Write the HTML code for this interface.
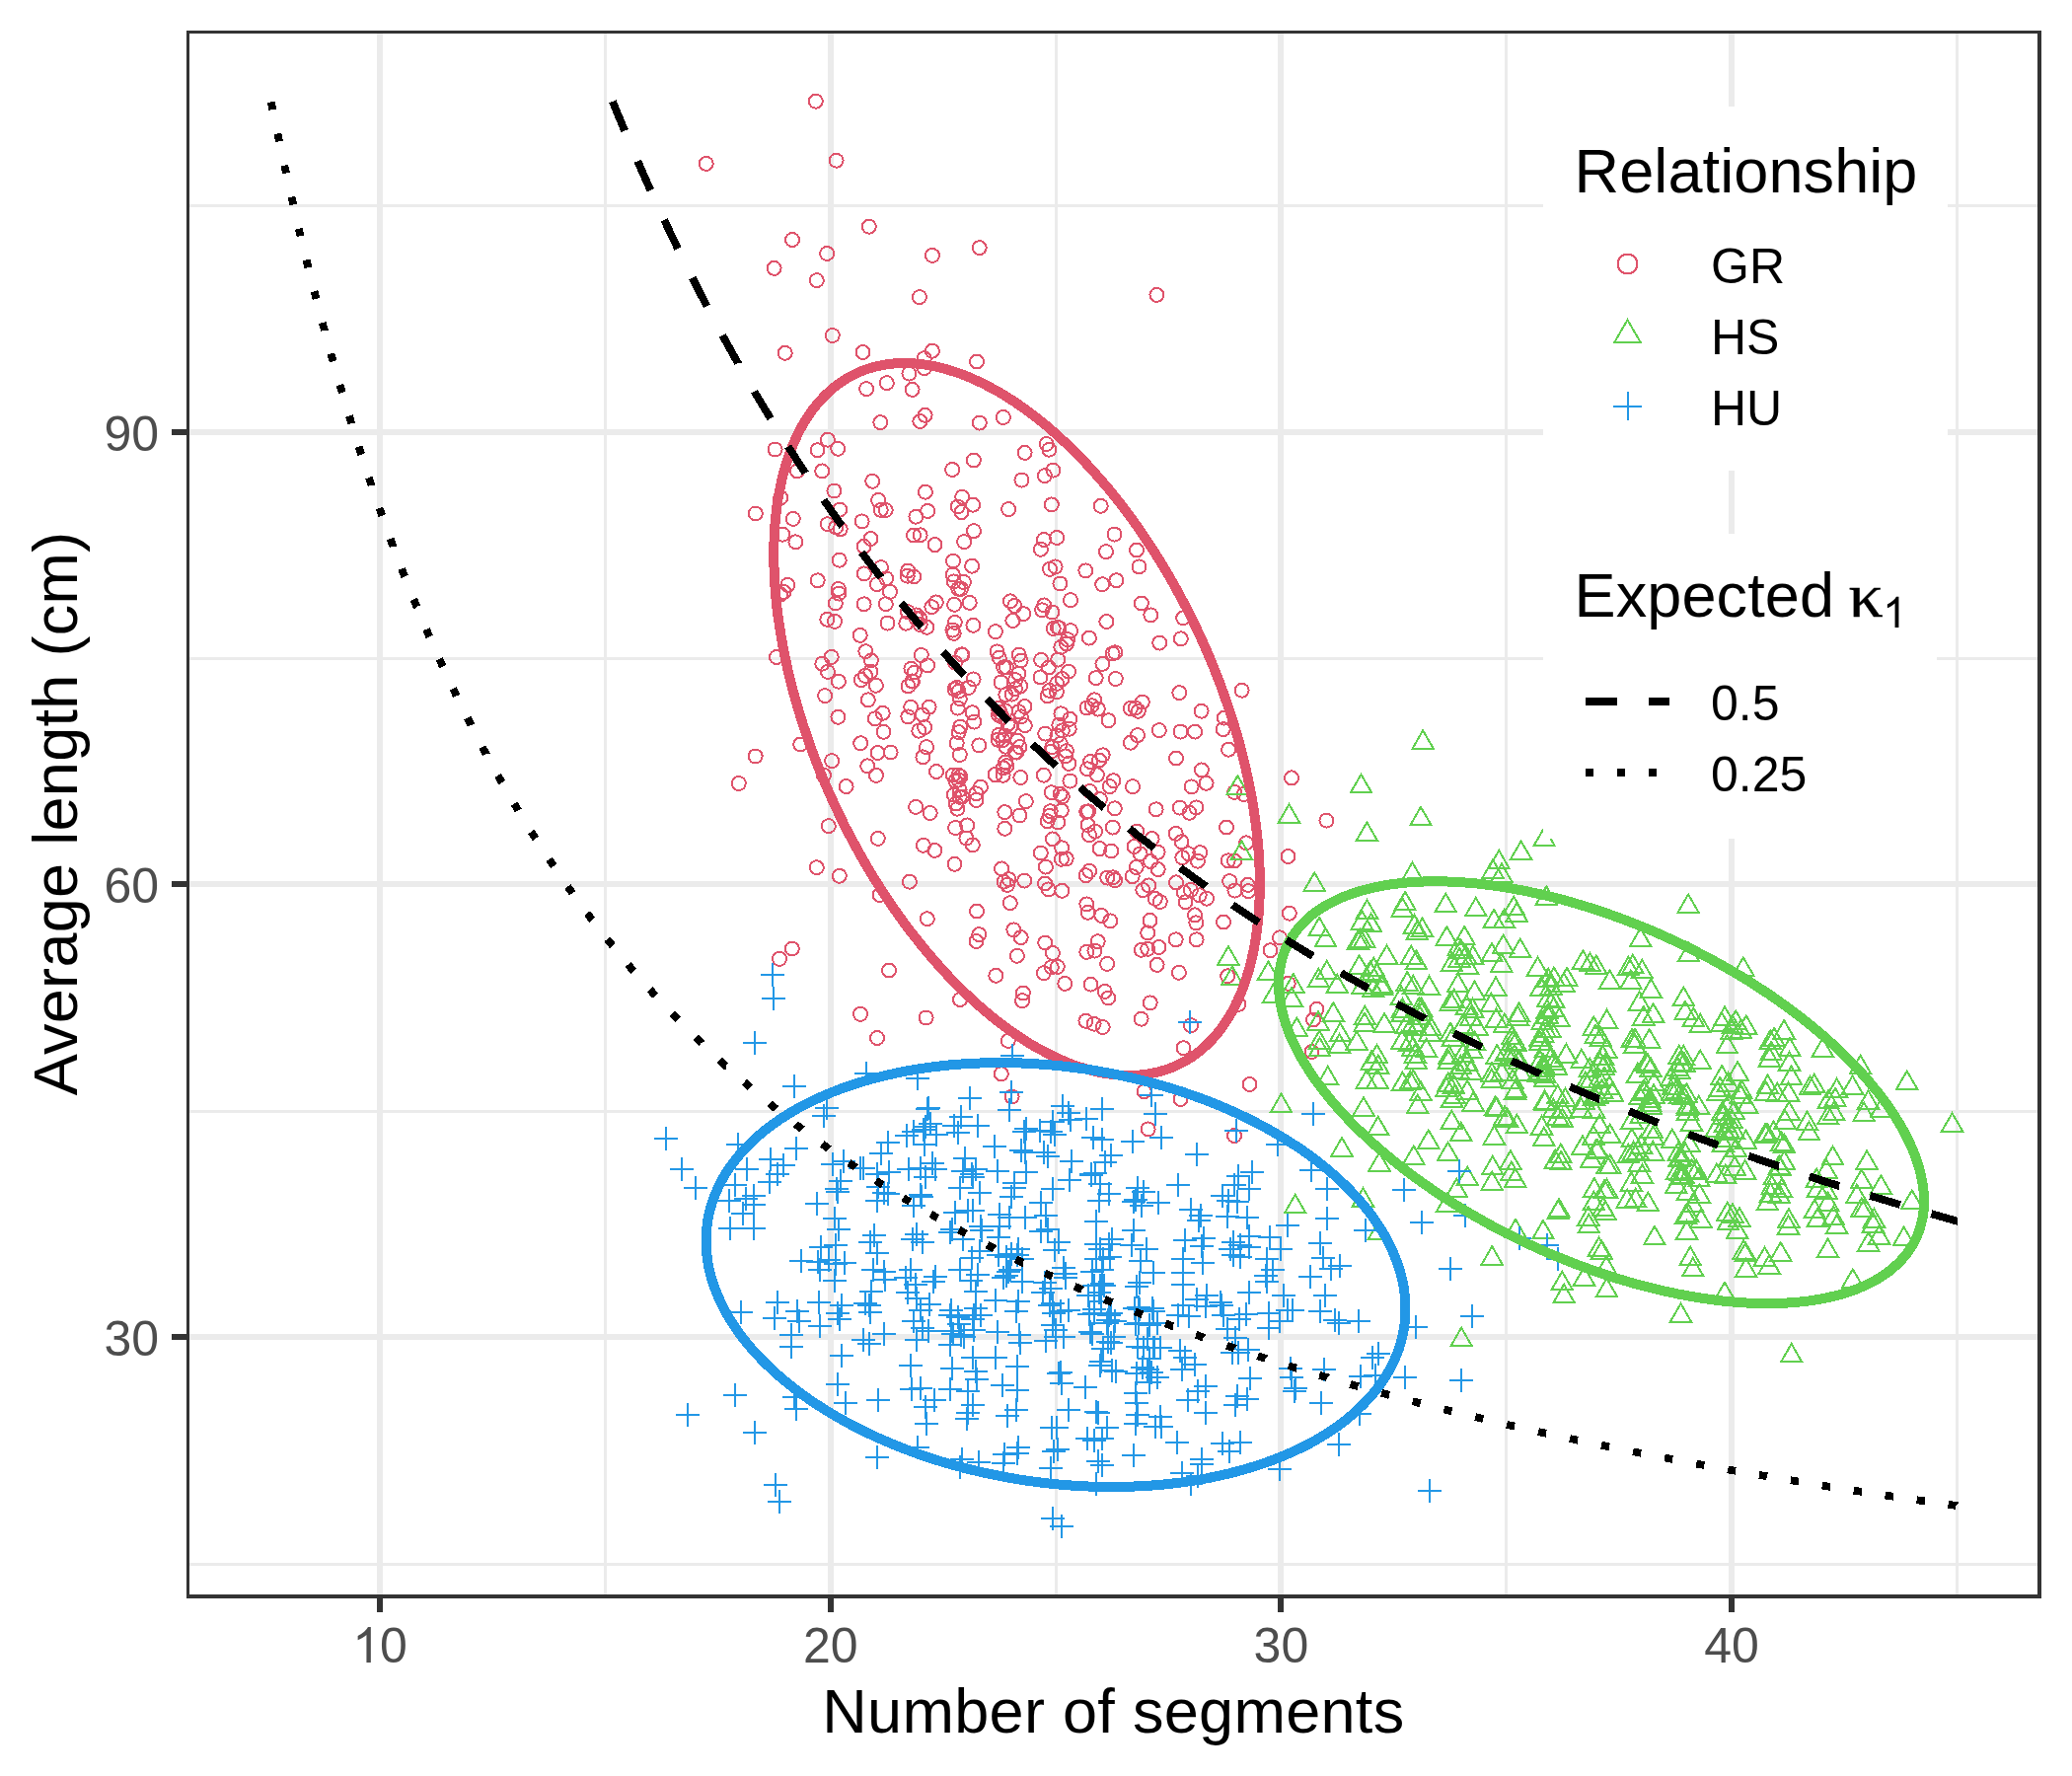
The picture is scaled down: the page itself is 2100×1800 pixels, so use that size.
<!DOCTYPE html><html><head><meta charset="utf-8"><title>chart</title>
<style>html,body{margin:0;padding:0;background:#fff}svg{display:block}text{font-family:"Liberation Sans",sans-serif}</style></head><body>
<svg width="2100" height="1800" viewBox="0 0 2100 1800">
<rect width="2100" height="1800" fill="#fff"/>
<defs><clipPath id="pc"><rect x="189" y="31" width="1880" height="1589"/></clipPath></defs>
<g clip-path="url(#pc)">
<g fill="#EBEBEB" shape-rendering="crispEdges">
<rect x="189" y="1584" width="1880" height="3"/>
<rect x="189" y="1125" width="1880" height="3"/>
<rect x="189" y="666" width="1880" height="3"/>
<rect x="189" y="207" width="1880" height="3"/>
<rect x="612" y="31" width="3" height="1589"/>
<rect x="1069" y="31" width="3" height="1589"/>
<rect x="1525" y="31" width="3" height="1589"/>
<rect x="1982" y="31" width="3" height="1589"/>
<rect x="189" y="1352" width="1880" height="6"/>
<rect x="189" y="893" width="1880" height="6"/>
<rect x="189" y="435" width="1880" height="6"/>
<rect x="382" y="31" width="6" height="1589"/>
<rect x="839" y="31" width="6" height="1589"/>
<rect x="1295" y="31" width="6" height="1589"/>
<rect x="1752" y="31" width="6" height="1589"/>
</g>
<g fill="none" stroke-width="2.0" shape-rendering="crispEdges">
<g stroke="#DF536B"><circle cx="1034.8" cy="726.3" r="7.0"/><circle cx="968.9" cy="814.5" r="7.0"/><circle cx="966.7" cy="641.9" r="7.0"/><circle cx="877.0" cy="684.9" r="7.0"/><circle cx="902.0" cy="599.9" r="7.0"/><circle cx="940.1" cy="674.4" r="7.0"/><circle cx="1054.8" cy="864.5" r="7.0"/><circle cx="1038.5" cy="716.0" r="7.0"/><circle cx="1196.8" cy="647.3" r="7.0"/><circle cx="1173.7" cy="881.1" r="7.0"/><circle cx="833.2" cy="477.4" r="7.0"/><circle cx="806.4" cy="549.3" r="7.0"/><circle cx="1082.0" cy="648.2" r="7.0"/><circle cx="1071.8" cy="979.9" r="7.0"/><circle cx="1116.3" cy="927.9" r="7.0"/><circle cx="1059.3" cy="743.6" r="7.0"/><circle cx="1059.1" cy="895.5" r="7.0"/><circle cx="1031.2" cy="750.7" r="7.0"/><circle cx="1065.8" cy="511.4" r="7.0"/><circle cx="932.4" cy="427.0" r="7.0"/><circle cx="1201.5" cy="914.3" r="7.0"/><circle cx="947.5" cy="552.1" r="7.0"/><circle cx="1122.1" cy="976.9" r="7.0"/><circle cx="968.0" cy="671.7" r="7.0"/><circle cx="1105.0" cy="772.0" r="7.0"/><circle cx="979.4" cy="849.5" r="7.0"/><circle cx="1024.3" cy="736.6" r="7.0"/><circle cx="1125.3" cy="933.4" r="7.0"/><circle cx="1158.4" cy="902.1" r="7.0"/><circle cx="1009.3" cy="988.8" r="7.0"/><circle cx="968.4" cy="791.6" r="7.0"/><circle cx="970.7" cy="513.5" r="7.0"/><circle cx="836.1" cy="705.1" r="7.0"/><circle cx="1151.7" cy="879.0" r="7.0"/><circle cx="967.1" cy="612.8" r="7.0"/><circle cx="1109.1" cy="709.3" r="7.0"/><circle cx="847.2" cy="534.5" r="7.0"/><circle cx="1067.7" cy="637.0" r="7.0"/><circle cx="935.4" cy="767.3" r="7.0"/><circle cx="974.6" cy="663.3" r="7.0"/><circle cx="1032.3" cy="682.8" r="7.0"/><circle cx="977.1" cy="549.1" r="7.0"/><circle cx="1023.8" cy="915.2" r="7.0"/><circle cx="1019.4" cy="756.7" r="7.0"/><circle cx="1211.1" cy="741.6" r="7.0"/><circle cx="1073.3" cy="734.7" r="7.0"/><circle cx="1059.9" cy="878.6" r="7.0"/><circle cx="1063.7" cy="699.9" r="7.0"/><circle cx="1014.5" cy="691.6" r="7.0"/><circle cx="1244.2" cy="989.2" r="7.0"/><circle cx="1012.0" cy="724.6" r="7.0"/><circle cx="1011.6" cy="749.8" r="7.0"/><circle cx="1072.3" cy="833.5" r="7.0"/><circle cx="1070.9" cy="701.3" r="7.0"/><circle cx="838.8" cy="531.2" r="7.0"/><circle cx="850.7" cy="567.7" r="7.0"/><circle cx="1100.5" cy="887.3" r="7.0"/><circle cx="1100.3" cy="578.4" r="7.0"/><circle cx="972.8" cy="708.1" r="7.0"/><circle cx="1072.2" cy="668.6" r="7.0"/><circle cx="1084.5" cy="791.5" r="7.0"/><circle cx="1129.8" cy="819.3" r="7.0"/><circle cx="965.8" cy="785.5" r="7.0"/><circle cx="969.8" cy="696.9" r="7.0"/><circle cx="1059.3" cy="955.5" r="7.0"/><circle cx="948.8" cy="610.4" r="7.0"/><circle cx="1172.6" cy="977.9" r="7.0"/><circle cx="1124.8" cy="797.1" r="7.0"/><circle cx="1058.0" cy="547.0" r="7.0"/><circle cx="1039.8" cy="812.1" r="7.0"/><circle cx="1076.1" cy="859.3" r="7.0"/><circle cx="937.9" cy="498.7" r="7.0"/><circle cx="939.0" cy="757.2" r="7.0"/><circle cx="970.7" cy="717.6" r="7.0"/><circle cx="968.2" cy="839.0" r="7.0"/><circle cx="851.2" cy="516.6" r="7.0"/><circle cx="940.1" cy="518.0" r="7.0"/><circle cx="982.7" cy="610.9" r="7.0"/><circle cx="1152.3" cy="842.6" r="7.0"/><circle cx="920.0" cy="620.1" r="7.0"/><circle cx="1072.0" cy="635.9" r="7.0"/><circle cx="1216.3" cy="864.1" r="7.0"/><circle cx="1058.2" cy="613.4" r="7.0"/><circle cx="926.2" cy="584.4" r="7.0"/><circle cx="1075.9" cy="870.8" r="7.0"/><circle cx="894.7" cy="722.8" r="7.0"/><circle cx="1131.4" cy="588.2" r="7.0"/><circle cx="846.8" cy="611.5" r="7.0"/><circle cx="1122.2" cy="889.6" r="7.0"/><circle cx="1016.9" cy="423.0" r="7.0"/><circle cx="975.3" cy="807.5" r="7.0"/><circle cx="1166.0" cy="873.0" r="7.0"/><circle cx="1028.3" cy="613.9" r="7.0"/><circle cx="1008.9" cy="640.2" r="7.0"/><circle cx="1174.6" cy="960.0" r="7.0"/><circle cx="937.1" cy="737.2" r="7.0"/><circle cx="1016.3" cy="750.2" r="7.0"/><circle cx="882.5" cy="546.0" r="7.0"/><circle cx="987.3" cy="731.6" r="7.0"/><circle cx="889.5" cy="763.0" r="7.0"/><circle cx="1195.3" cy="702.1" r="7.0"/><circle cx="1032.5" cy="721.3" r="7.0"/><circle cx="897.8" cy="612.2" r="7.0"/><circle cx="1101.2" cy="822.8" r="7.0"/><circle cx="986.9" cy="466.5" r="7.0"/><circle cx="1010.5" cy="660.4" r="7.0"/><circle cx="1019.2" cy="720.4" r="7.0"/><circle cx="845.4" cy="497.5" r="7.0"/><circle cx="1012.3" cy="744.8" r="7.0"/><circle cx="833.3" cy="672.7" r="7.0"/><circle cx="1212.6" cy="952.3" r="7.0"/><circle cx="923.4" cy="677.7" r="7.0"/><circle cx="992.3" cy="947.1" r="7.0"/><circle cx="1085.0" cy="639.2" r="7.0"/><circle cx="1055.2" cy="668.9" r="7.0"/><circle cx="872.2" cy="753.2" r="7.0"/><circle cx="1207.6" cy="797.4" r="7.0"/><circle cx="986.6" cy="688.4" r="7.0"/><circle cx="1034.2" cy="695.3" r="7.0"/><circle cx="1064.7" cy="822.2" r="7.0"/><circle cx="1114.9" cy="810.2" r="7.0"/><circle cx="875.6" cy="553.9" r="7.0"/><circle cx="1128.5" cy="791.2" r="7.0"/><circle cx="1163.2" cy="961.8" r="7.0"/><circle cx="974.5" cy="519.1" r="7.0"/><circle cx="920.3" cy="726.4" r="7.0"/><circle cx="1196.5" cy="741.6" r="7.0"/><circle cx="1075.3" cy="655.8" r="7.0"/><circle cx="838.9" cy="445.7" r="7.0"/><circle cx="1251.1" cy="802.9" r="7.0"/><circle cx="1104.0" cy="846.2" r="7.0"/><circle cx="803.8" cy="525.9" r="7.0"/><circle cx="926.0" cy="542.5" r="7.0"/><circle cx="1121.0" cy="559.1" r="7.0"/><circle cx="1018.3" cy="839.8" r="7.0"/><circle cx="939.8" cy="931.2" r="7.0"/><circle cx="932.6" cy="542.3" r="7.0"/><circle cx="1164.2" cy="897.4" r="7.0"/><circle cx="949.0" cy="782.0" r="7.0"/><circle cx="1084.3" cy="728.8" r="7.0"/><circle cx="1074.6" cy="804.8" r="7.0"/><circle cx="1054.5" cy="686.4" r="7.0"/><circle cx="1081.0" cy="652.6" r="7.0"/><circle cx="1198.3" cy="869.1" r="7.0"/><circle cx="1029.1" cy="689.2" r="7.0"/><circle cx="1147.7" cy="888.2" r="7.0"/><circle cx="973.2" cy="736.6" r="7.0"/><circle cx="846.0" cy="629.8" r="7.0"/><circle cx="1156.8" cy="962.8" r="7.0"/><circle cx="1145.9" cy="752.7" r="7.0"/><circle cx="1073.5" cy="636.4" r="7.0"/><circle cx="1103.1" cy="822.3" r="7.0"/><circle cx="934.9" cy="724.4" r="7.0"/><circle cx="971.3" cy="596.8" r="7.0"/><circle cx="1111.9" cy="785.3" r="7.0"/><circle cx="1112.8" cy="718.6" r="7.0"/><circle cx="1204.5" cy="865.3" r="7.0"/><circle cx="971.5" cy="790.5" r="7.0"/><circle cx="985.5" cy="722.2" r="7.0"/><circle cx="1251.5" cy="902.5" r="7.0"/><circle cx="851.7" cy="536.3" r="7.0"/><circle cx="875.6" cy="612.3" r="7.0"/><circle cx="1104.7" cy="802.0" r="7.0"/><circle cx="1192.0" cy="768.5" r="7.0"/><circle cx="989.4" cy="804.3" r="7.0"/><circle cx="879.8" cy="709.3" r="7.0"/><circle cx="1033.4" cy="757.1" r="7.0"/><circle cx="798.3" cy="592.9" r="7.0"/><circle cx="1110.0" cy="842.7" r="7.0"/><circle cx="1085.0" cy="608.2" r="7.0"/><circle cx="1071.1" cy="545.0" r="7.0"/><circle cx="966.0" cy="568.7" r="7.0"/><circle cx="1130.4" cy="661.3" r="7.0"/><circle cx="1022.1" cy="516.1" r="7.0"/><circle cx="974.0" cy="596.8" r="7.0"/><circle cx="947.4" cy="861.9" r="7.0"/><circle cx="1065.4" cy="761.6" r="7.0"/><circle cx="987.0" cy="538.1" r="7.0"/><circle cx="1212.4" cy="818.4" r="7.0"/><circle cx="1165.5" cy="932.9" r="7.0"/><circle cx="1030.1" cy="762.6" r="7.0"/><circle cx="1197.5" cy="853.2" r="7.0"/><circle cx="1110.7" cy="687.1" r="7.0"/><circle cx="1129.5" cy="541.6" r="7.0"/><circle cx="1015.7" cy="726.8" r="7.0"/><circle cx="944.3" cy="615.2" r="7.0"/><circle cx="1038.6" cy="458.9" r="7.0"/><circle cx="1175.8" cy="914.0" r="7.0"/><circle cx="920.2" cy="578.5" r="7.0"/><circle cx="1076.8" cy="807.4" r="7.0"/><circle cx="993.9" cy="797.7" r="7.0"/><circle cx="928.2" cy="817.9" r="7.0"/><circle cx="931.3" cy="740.7" r="7.0"/><circle cx="1163.2" cy="945.4" r="7.0"/><circle cx="1033.4" cy="826.5" r="7.0"/><circle cx="850.2" cy="601.6" r="7.0"/><circle cx="1024.0" cy="609.3" r="7.0"/><circle cx="1054.9" cy="556.8" r="7.0"/><circle cx="879.2" cy="776.3" r="7.0"/><circle cx="1215.7" cy="907.3" r="7.0"/><circle cx="1251.1" cy="872.5" r="7.0"/><circle cx="1265.3" cy="903.1" r="7.0"/><circle cx="828.7" cy="588.3" r="7.0"/><circle cx="942.7" cy="824.0" r="7.0"/><circle cx="935.9" cy="856.8" r="7.0"/><circle cx="939.3" cy="635.8" r="7.0"/><circle cx="1128.1" cy="889.3" r="7.0"/><circle cx="1150.7" cy="717.6" r="7.0"/><circle cx="992.3" cy="755.4" r="7.0"/><circle cx="1263.0" cy="854.3" r="7.0"/><circle cx="1174.8" cy="740.1" r="7.0"/><circle cx="1019.3" cy="704.1" r="7.0"/><circle cx="1018.4" cy="745.6" r="7.0"/><circle cx="1016.6" cy="785.8" r="7.0"/><circle cx="1076.5" cy="688.1" r="7.0"/><circle cx="1076.8" cy="740.4" r="7.0"/><circle cx="1063.9" cy="827.0" r="7.0"/><circle cx="1239.7" cy="739.1" r="7.0"/><circle cx="1019.9" cy="676.3" r="7.0"/><circle cx="893.0" cy="575.1" r="7.0"/><circle cx="1175.2" cy="651.6" r="7.0"/><circle cx="1101.6" cy="717.5" r="7.0"/><circle cx="1076.3" cy="902.8" r="7.0"/><circle cx="1166.3" cy="623.4" r="7.0"/><circle cx="884.2" cy="487.8" r="7.0"/><circle cx="898.8" cy="388.1" r="7.0"/><circle cx="965.1" cy="476.0" r="7.0"/><circle cx="972.6" cy="800.4" r="7.0"/><circle cx="1080.7" cy="870.4" r="7.0"/><circle cx="849.9" cy="690.7" r="7.0"/><circle cx="1102.0" cy="779.3" r="7.0"/><circle cx="975.4" cy="663.8" r="7.0"/><circle cx="1020.4" cy="776.2" r="7.0"/><circle cx="882.4" cy="680.7" r="7.0"/><circle cx="1167.6" cy="850.1" r="7.0"/><circle cx="1191.7" cy="844.9" r="7.0"/><circle cx="1071.1" cy="692.8" r="7.0"/><circle cx="1170.8" cy="910.9" r="7.0"/><circle cx="828.5" cy="456.3" r="7.0"/><circle cx="1061.7" cy="705.3" r="7.0"/><circle cx="1021.0" cy="896.9" r="7.0"/><circle cx="895.5" cy="741.8" r="7.0"/><circle cx="1154.5" cy="574.4" r="7.0"/><circle cx="1057.8" cy="785.7" r="7.0"/><circle cx="1032.6" cy="663.6" r="7.0"/><circle cx="1244.7" cy="872.3" r="7.0"/><circle cx="892.3" cy="428.1" r="7.0"/><circle cx="1066.3" cy="757.2" r="7.0"/><circle cx="1153.8" cy="720.8" r="7.0"/><circle cx="924.9" cy="690.6" r="7.0"/><circle cx="1199.2" cy="626.2" r="7.0"/><circle cx="1080.9" cy="761.2" r="7.0"/><circle cx="1062.9" cy="676.5" r="7.0"/><circle cx="1034.3" cy="788.0" r="7.0"/><circle cx="937.6" cy="420.9" r="7.0"/><circle cx="1016.7" cy="778.4" r="7.0"/><circle cx="1025.5" cy="703.7" r="7.0"/><circle cx="973.4" cy="787.1" r="7.0"/><circle cx="967.8" cy="630.9" r="7.0"/><circle cx="1156.9" cy="611.5" r="7.0"/><circle cx="1038.2" cy="892.6" r="7.0"/><circle cx="1074.4" cy="591.5" r="7.0"/><circle cx="888.0" cy="785.9" r="7.0"/><circle cx="1264.6" cy="896.9" r="7.0"/><circle cx="926.8" cy="681.5" r="7.0"/><circle cx="1123.3" cy="1011.5" r="7.0"/><circle cx="966.8" cy="805.6" r="7.0"/><circle cx="1083.7" cy="738.7" r="7.0"/><circle cx="1240.9" cy="727.6" r="7.0"/><circle cx="899.5" cy="631.6" r="7.0"/><circle cx="919.7" cy="583.7" r="7.0"/><circle cx="1246.2" cy="893.1" r="7.0"/><circle cx="1114.5" cy="860.1" r="7.0"/><circle cx="1103.9" cy="646.6" r="7.0"/><circle cx="1117.2" cy="592.2" r="7.0"/><circle cx="1157.8" cy="711.6" r="7.0"/><circle cx="1211.0" cy="927.4" r="7.0"/><circle cx="1021.6" cy="733.8" r="7.0"/><circle cx="872.8" cy="689.1" r="7.0"/><circle cx="1028.9" cy="698.1" r="7.0"/><circle cx="989.5" cy="810.9" r="7.0"/><circle cx="1062.6" cy="901.4" r="7.0"/><circle cx="892.7" cy="516.9" r="7.0"/><circle cx="1212.3" cy="935.3" r="7.0"/><circle cx="1115.7" cy="512.8" r="7.0"/><circle cx="1123.5" cy="730.2" r="7.0"/><circle cx="1074.8" cy="753.9" r="7.0"/><circle cx="1117.6" cy="765.3" r="7.0"/><circle cx="1106.5" cy="715.2" r="7.0"/><circle cx="992.8" cy="428.6" r="7.0"/><circle cx="1034.7" cy="669.5" r="7.0"/><circle cx="985.8" cy="856.3" r="7.0"/><circle cx="1195.7" cy="818.6" r="7.0"/><circle cx="849.8" cy="597.0" r="7.0"/><circle cx="1101.3" cy="916.4" r="7.0"/><circle cx="1071.4" cy="745.6" r="7.0"/><circle cx="1066.9" cy="850.4" r="7.0"/><circle cx="1018.3" cy="823.1" r="7.0"/><circle cx="1083.4" cy="773.9" r="7.0"/><circle cx="1058.9" cy="482.1" r="7.0"/><circle cx="842.7" cy="665.9" r="7.0"/><circle cx="1037.3" cy="622.1" r="7.0"/><circle cx="890.1" cy="506.9" r="7.0"/><circle cx="1013.6" cy="722.1" r="7.0"/><circle cx="981.8" cy="696.9" r="7.0"/><circle cx="1112.7" cy="954.2" r="7.0"/><circle cx="966.7" cy="589.4" r="7.0"/><circle cx="878.1" cy="394.1" r="7.0"/><circle cx="1067.4" cy="476.6" r="7.0"/><circle cx="1260.9" cy="805.0" r="7.0"/><circle cx="1206.9" cy="902.0" r="7.0"/><circle cx="1171.6" cy="820.3" r="7.0"/><circle cx="1101.3" cy="964.9" r="7.0"/><circle cx="1130.8" cy="688.0" r="7.0"/><circle cx="1240.0" cy="934.5" r="7.0"/><circle cx="928.7" cy="627.0" r="7.0"/><circle cx="1104.2" cy="882.8" r="7.0"/><circle cx="928.4" cy="523.7" r="7.0"/><circle cx="1148.0" cy="797.2" r="7.0"/><circle cx="1156.6" cy="1032.7" r="7.0"/><circle cx="875.8" cy="581.4" r="7.0"/><circle cx="843.1" cy="771.1" r="7.0"/><circle cx="1011.9" cy="717.9" r="7.0"/><circle cx="838.9" cy="680.9" r="7.0"/><circle cx="990.0" cy="923.6" r="7.0"/><circle cx="986.4" cy="633.8" r="7.0"/><circle cx="849.2" cy="454.8" r="7.0"/><circle cx="898.2" cy="586.3" r="7.0"/><circle cx="1075.8" cy="821.5" r="7.0"/><circle cx="1114.1" cy="770.5" r="7.0"/><circle cx="888.9" cy="592.1" r="7.0"/><circle cx="902.7" cy="762.5" r="7.0"/><circle cx="1061.5" cy="832.3" r="7.0"/><circle cx="1026.4" cy="629.0" r="7.0"/><circle cx="1153.0" cy="745.1" r="7.0"/><circle cx="969.7" cy="753.3" r="7.0"/><circle cx="1064.0" cy="576.8" r="7.0"/><circle cx="857.6" cy="797.1" r="7.0"/><circle cx="971.3" cy="785.7" r="7.0"/><circle cx="1126.3" cy="862.5" r="7.0"/><circle cx="1079.9" cy="766.4" r="7.0"/><circle cx="971.7" cy="742.1" r="7.0"/><circle cx="933.8" cy="664.0" r="7.0"/><circle cx="1036.1" cy="1014.2" r="7.0"/><circle cx="986.1" cy="511.7" r="7.0"/><circle cx="1173.6" cy="863.7" r="7.0"/><circle cx="1066.4" cy="620.5" r="7.0"/><circle cx="1038.8" cy="735.2" r="7.0"/><circle cx="1105.5" cy="997.7" r="7.0"/><circle cx="877.3" cy="660.2" r="7.0"/><circle cx="1008.5" cy="785.1" r="7.0"/><circle cx="887.9" cy="694.8" r="7.0"/><circle cx="1019.0" cy="772.7" r="7.0"/><circle cx="1205.5" cy="823.8" r="7.0"/><circle cx="967.5" cy="875.8" r="7.0"/><circle cx="873.6" cy="528.4" r="7.0"/><circle cx="871.7" cy="643.9" r="7.0"/><circle cx="920.5" cy="695.4" r="7.0"/><circle cx="975.2" cy="503.8" r="7.0"/><circle cx="882.9" cy="669.4" r="7.0"/><circle cx="807.9" cy="477.4" r="7.0"/><circle cx="941.6" cy="716.7" r="7.0"/><circle cx="976.9" cy="590.0" r="7.0"/><circle cx="1015.1" cy="880.4" r="7.0"/><circle cx="1102.5" cy="836.0" r="7.0"/><circle cx="972.7" cy="807.8" r="7.0"/><circle cx="1245.1" cy="759.7" r="7.0"/><circle cx="1145.9" cy="718.0" r="7.0"/><circle cx="971.5" cy="700.7" r="7.0"/><circle cx="1222.6" cy="793.8" r="7.0"/><circle cx="924.4" cy="690.4" r="7.0"/><circle cx="1027.3" cy="942.4" r="7.0"/><circle cx="1127.6" cy="662.5" r="7.0"/><circle cx="1075.4" cy="723.3" r="7.0"/><circle cx="1149.5" cy="858.0" r="7.0"/><circle cx="965.5" cy="638.5" r="7.0"/><circle cx="1035.5" cy="486.5" r="7.0"/><circle cx="1217.6" cy="720.7" r="7.0"/><circle cx="980.2" cy="836.4" r="7.0"/><circle cx="886.8" cy="728.3" r="7.0"/><circle cx="967.5" cy="698.4" r="7.0"/><circle cx="1060.7" cy="450.0" r="7.0"/><circle cx="1127.8" cy="838.6" r="7.0"/><circle cx="1194.9" cy="985.8" r="7.0"/><circle cx="1056.1" cy="618.3" r="7.0"/><circle cx="1079.3" cy="996.9" r="7.0"/><circle cx="932.3" cy="627.1" r="7.0"/><circle cx="1083.0" cy="680.7" r="7.0"/><circle cx="1191.7" cy="952.3" r="7.0"/><circle cx="1117.4" cy="672.9" r="7.0"/><circle cx="1223.0" cy="910.7" r="7.0"/><circle cx="921.9" cy="893.7" r="7.0"/><circle cx="1199.8" cy="904.4" r="7.0"/><circle cx="1012.7" cy="666.6" r="7.0"/><circle cx="970.4" cy="819.7" r="7.0"/><circle cx="1065.8" cy="803.2" r="7.0"/><circle cx="1192.0" cy="894.4" r="7.0"/><circle cx="918.3" cy="631.7" r="7.0"/><circle cx="1213.9" cy="872.7" r="7.0"/><circle cx="1102.5" cy="924.8" r="7.0"/><circle cx="1017.2" cy="676.2" r="7.0"/><circle cx="1063.4" cy="455.7" r="7.0"/><circle cx="923.2" cy="716.8" r="7.0"/><circle cx="889.8" cy="849.9" r="7.0"/><circle cx="1121.4" cy="630.0" r="7.0"/><circle cx="932.7" cy="633.0" r="7.0"/><circle cx="972.8" cy="765.0" r="7.0"/><circle cx="928.7" cy="623.4" r="7.0"/><circle cx="1069.6" cy="574.4" r="7.0"/><circle cx="1217.9" cy="780.4" r="7.0"/><circle cx="897.7" cy="517.0" r="7.0"/><circle cx="1243.0" cy="838.5" r="7.0"/><circle cx="965.8" cy="582.3" r="7.0"/><circle cx="1130.1" cy="892.2" r="7.0"/><circle cx="1022.5" cy="891.2" r="7.0"/><circle cx="1109.5" cy="963.5" r="7.0"/><circle cx="1155.6" cy="865.3" r="7.0"/><circle cx="985.1" cy="573.7" r="7.0"/><circle cx="849.4" cy="726.8" r="7.0"/><circle cx="1028.8" cy="762.5" r="7.0"/><circle cx="1152.0" cy="557.5" r="7.0"/><circle cx="1017.5" cy="893.7" r="7.0"/><circle cx="838.3" cy="627.8" r="7.0"/><circle cx="826.8" cy="102.7" r="7.0"/><circle cx="715.7" cy="165.9" r="7.0"/><circle cx="847.6" cy="162.7" r="7.0"/><circle cx="880.8" cy="229.7" r="7.0"/><circle cx="803.0" cy="243.0" r="7.0"/><circle cx="838.1" cy="257.0" r="7.0"/><circle cx="784.6" cy="271.9" r="7.0"/><circle cx="827.8" cy="284.1" r="7.0"/><circle cx="944.9" cy="258.9" r="7.0"/><circle cx="992.7" cy="251.1" r="7.0"/><circle cx="931.9" cy="301.1" r="7.0"/><circle cx="1172.4" cy="298.9" r="7.0"/><circle cx="843.8" cy="340.0" r="7.0"/><circle cx="795.7" cy="357.8" r="7.0"/><circle cx="874.6" cy="357.0" r="7.0"/><circle cx="944.9" cy="355.7" r="7.0"/><circle cx="936.8" cy="363.2" r="7.0"/><circle cx="990.0" cy="366.5" r="7.0"/><circle cx="921.4" cy="378.6" r="7.0"/><circle cx="936.8" cy="373.2" r="7.0"/><circle cx="924.6" cy="394.9" r="7.0"/><circle cx="785.6" cy="455.5" r="7.0"/><circle cx="765.8" cy="520.5" r="7.0"/><circle cx="791.3" cy="504.4" r="7.0"/><circle cx="793.3" cy="541.7" r="7.0"/><circle cx="791.0" cy="602.5" r="7.0"/><circle cx="794.5" cy="600.0" r="7.0"/><circle cx="787.0" cy="666.0" r="7.0"/><circle cx="765.7" cy="766.5" r="7.0"/><circle cx="748.8" cy="794.0" r="7.0"/><circle cx="811.2" cy="754.5" r="7.0"/><circle cx="835.0" cy="785.9" r="7.0"/><circle cx="839.8" cy="837.1" r="7.0"/><circle cx="827.8" cy="879.2" r="7.0"/><circle cx="850.8" cy="887.8" r="7.0"/><circle cx="891.5" cy="907.0" r="7.0"/><circle cx="802.8" cy="961.5" r="7.0"/><circle cx="790.0" cy="971.8" r="7.0"/><circle cx="901.0" cy="983.5" r="7.0"/><circle cx="872.0" cy="1027.8" r="7.0"/><circle cx="889.0" cy="1052.0" r="7.0"/><circle cx="938.6" cy="1031.5" r="7.0"/><circle cx="973.0" cy="1013.0" r="7.0"/><circle cx="1021.8" cy="1054.9" r="7.0"/><circle cx="1014.8" cy="1088.3" r="7.0"/><circle cx="1025.6" cy="1111.5" r="7.0"/><circle cx="1258.6" cy="699.7" r="7.0"/><circle cx="1309.0" cy="788.4" r="7.0"/><circle cx="1344.4" cy="831.6" r="7.0"/><circle cx="1305.6" cy="868.0" r="7.0"/><circle cx="1306.8" cy="925.7" r="7.0"/><circle cx="1287.5" cy="963.2" r="7.0"/><circle cx="1297.0" cy="950.3" r="7.0"/><circle cx="1334.5" cy="1022.8" r="7.0"/><circle cx="1331.0" cy="1033.5" r="7.0"/><circle cx="1329.5" cy="1066.0" r="7.0"/><circle cx="1266.5" cy="1099.0" r="7.0"/><circle cx="1255.5" cy="1017.8" r="7.0"/><circle cx="1199.5" cy="1062.2" r="7.0"/><circle cx="1159.7" cy="1106.2" r="7.0"/><circle cx="1196.6" cy="1114.0" r="7.0"/><circle cx="1251.0" cy="1151.0" r="7.0"/><circle cx="1163.6" cy="1144.4" r="7.0"/><circle cx="1305.7" cy="996.8" r="7.0"/><circle cx="1207.0" cy="1039.2" r="7.0"/><circle cx="1036.9" cy="1006.5" r="7.0"/><circle cx="1100.4" cy="1034.8" r="7.0"/><circle cx="1108.6" cy="1037.7" r="7.0"/><circle cx="1117.7" cy="1041.0" r="7.0"/><circle cx="1119.7" cy="1004.9" r="7.0"/><circle cx="1165.7" cy="1016.4" r="7.0"/><circle cx="989.6" cy="954.0" r="7.0"/><circle cx="1034.7" cy="950.1" r="7.0"/><circle cx="1030.9" cy="968.8" r="7.0"/><circle cx="1066.9" cy="965.9" r="7.0"/><circle cx="1065.8" cy="980.1" r="7.0"/><circle cx="1057.9" cy="986.2" r="7.0"/></g>
<g stroke="#61D04F" stroke-linejoin="miter"><path d="M1719.4,1176.3l10.65,18.45h-21.30zM1670.0,1068.4l10.65,18.45h-21.30zM1815.5,1080.7l10.65,18.45h-21.30zM1432.3,989.0l10.65,18.45h-21.30zM1405.5,958.1l10.65,18.45h-21.30zM1722.0,1184.0l10.65,18.45h-21.30zM1574.5,1011.4l10.65,18.45h-21.30zM1694.7,1144.6l10.65,18.45h-21.30zM1659.7,1078.1l10.65,18.45h-21.30zM1467.5,1157.8l10.65,18.45h-21.30zM1757.3,1135.2l10.65,18.45h-21.30zM1565.6,1105.3l10.65,18.45h-21.30zM1624.9,1213.6l10.65,18.45h-21.30zM1466.1,1092.3l10.65,18.45h-21.30zM1852.5,1255.6l10.65,18.45h-21.30zM1531.9,1177.6l10.65,18.45h-21.30zM1676.9,1242.9l10.65,18.45h-21.30zM1337.1,929.9l10.65,18.45h-21.30zM1703.2,1066.4l10.65,18.45h-21.30zM1388.7,974.5l10.65,18.45h-21.30zM1755.9,1029.0l10.65,18.45h-21.30zM1751.6,1087.1l10.65,18.45h-21.30zM1789.1,1139.1l10.65,18.45h-21.30zM1795.1,1055.8l10.65,18.45h-21.30zM1707.9,1014.9l10.65,18.45h-21.30zM1794.5,1199.3l10.65,18.45h-21.30zM1797.6,1136.5l10.65,18.45h-21.30zM1650.4,969.9l10.65,18.45h-21.30zM1482.9,1057.7l10.65,18.45h-21.30zM1468.6,1060.0l10.65,18.45h-21.30zM1750.4,1049.0l10.65,18.45h-21.30zM1421.4,1012.2l10.65,18.45h-21.30zM1605.3,1105.5l10.65,18.45h-21.30zM1794.3,1044.4l10.65,18.45h-21.30zM1620.5,1254.2l10.65,18.45h-21.30zM1357.5,1048.2l10.65,18.45h-21.30zM1355.2,987.6l10.65,18.45h-21.30zM1383.0,1026.7l10.65,18.45h-21.30zM1588.1,980.8l10.65,18.45h-21.30zM1536.1,1046.3l10.65,18.45h-21.30zM1541.6,1076.8l10.65,18.45h-21.30zM1517.2,1059.2l10.65,18.45h-21.30zM1628.1,1273.5l10.65,18.45h-21.30zM1886.7,1214.6l10.65,18.45h-21.30zM1337.5,1051.9l10.65,18.45h-21.30zM1536.0,1235.8l10.65,18.45h-21.30zM1769.8,1029.5l10.65,18.45h-21.30zM1611.4,966.0l10.65,18.45h-21.30zM1617.0,1038.8l10.65,18.45h-21.30zM1344.7,973.8l10.65,18.45h-21.30zM1672.2,1103.4l10.65,18.45h-21.30zM1466.3,939.2l10.65,18.45h-21.30zM1383.3,1019.9l10.65,18.45h-21.30zM1842.2,1224.6l10.65,18.45h-21.30zM1751.6,1134.1l10.65,18.45h-21.30zM1561.3,1041.1l10.65,18.45h-21.30zM1714.7,1175.3l10.65,18.45h-21.30zM1653.8,1125.2l10.65,18.45h-21.30zM1671.7,1043.2l10.65,18.45h-21.30zM1760.7,1236.5l10.65,18.45h-21.30zM1571.3,1032.8l10.65,18.45h-21.30zM1612.8,1164.4l10.65,18.45h-21.30zM1706.1,1100.4l10.65,18.45h-21.30zM1627.0,1068.0l10.65,18.45h-21.30zM1860.1,1102.9l10.65,18.45h-21.30zM1314.3,1031.6l10.65,18.45h-21.30zM1449.9,1030.4l10.65,18.45h-21.30zM1569.1,981.6l10.65,18.45h-21.30zM1375.1,1045.3l10.65,18.45h-21.30zM1759.2,1024.4l10.65,18.45h-21.30zM1524.6,921.7l10.65,18.45h-21.30zM1482.9,1028.2l10.65,18.45h-21.30zM1471.4,965.7l10.65,18.45h-21.30zM1615.6,1114.2l10.65,18.45h-21.30zM1486.5,1009.4l10.65,18.45h-21.30zM1471.6,1103.3l10.65,18.45h-21.30zM1472.2,1041.7l10.65,18.45h-21.30zM1390.2,1065.3l10.65,18.45h-21.30zM1670.3,1208.6l10.65,18.45h-21.30zM1675.5,1141.5l10.65,18.45h-21.30zM1480.7,1137.5l10.65,18.45h-21.30zM1470.0,1036.8l10.65,18.45h-21.30zM1540.7,951.6l10.65,18.45h-21.30zM1748.7,1128.1l10.65,18.45h-21.30zM1665.8,1020.1l10.65,18.45h-21.30zM1695.6,1090.8l10.65,18.45h-21.30zM1906.4,1191.5l10.65,18.45h-21.30zM1615.8,1194.1l10.65,18.45h-21.30zM1310.8,987.2l10.65,18.45h-21.30zM1448.5,989.5l10.65,18.45h-21.30zM1480.4,1069.7l10.65,18.45h-21.30zM1580.3,1021.8l10.65,18.45h-21.30zM1578.8,1099.8l10.65,18.45h-21.30zM1623.6,1094.5l10.65,18.45h-21.30zM1748.0,1299.7l10.65,18.45h-21.30zM1852.6,1208.4l10.65,18.45h-21.30zM1421.6,1016.3l10.65,18.45h-21.30zM1620.6,1083.4l10.65,18.45h-21.30zM1803.4,1200.7l10.65,18.45h-21.30zM1610.3,1230.9l10.65,18.45h-21.30zM1761.1,1076.2l10.65,18.45h-21.30zM1468.1,1064.8l10.65,18.45h-21.30zM1571.4,1062.9l10.65,18.45h-21.30zM1473.2,1089.4l10.65,18.45h-21.30zM1530.9,1166.3l10.65,18.45h-21.30zM1558.5,970.1l10.65,18.45h-21.30zM1793.2,1272.1l10.65,18.45h-21.30zM1575.0,1065.5l10.65,18.45h-21.30zM1602.6,1113.3l10.65,18.45h-21.30zM1626.2,1196.0l10.65,18.45h-21.30zM1841.2,1184.5l10.65,18.45h-21.30zM1376.5,943.2l10.65,18.45h-21.30zM1623.4,1257.6l10.65,18.45h-21.30zM1750.8,1218.7l10.65,18.45h-21.30zM1710.4,1197.4l10.65,18.45h-21.30zM1805.5,1147.7l10.65,18.45h-21.30zM1487.1,1095.2l10.65,18.45h-21.30zM1602.9,1063.8l10.65,18.45h-21.30zM1525.0,1121.3l10.65,18.45h-21.30zM1746.4,1120.8l10.65,18.45h-21.30zM1478.3,1075.0l10.65,18.45h-21.30zM1535.0,1059.0l10.65,18.45h-21.30zM1433.5,927.2l10.65,18.45h-21.30zM1767.0,1257.5l10.65,18.45h-21.30zM1834.5,1091.0l10.65,18.45h-21.30zM1512.1,1187.5l10.65,18.45h-21.30zM1581.9,1159.6l10.65,18.45h-21.30zM1759.5,1154.0l10.65,18.45h-21.30zM1808.3,1149.5l10.65,18.45h-21.30zM1336.0,1025.1l10.65,18.45h-21.30zM1622.3,1041.4l10.65,18.45h-21.30zM1611.1,1072.6l10.65,18.45h-21.30zM1710.8,1109.2l10.65,18.45h-21.30zM1337.2,1044.6l10.65,18.45h-21.30zM1699.0,1094.7l10.65,18.45h-21.30zM1657.7,1205.0l10.65,18.45h-21.30zM1566.1,1079.0l10.65,18.45h-21.30zM1714.5,1127.4l10.65,18.45h-21.30zM1420.3,999.8l10.65,18.45h-21.30zM1624.5,1060.2l10.65,18.45h-21.30zM1586.4,1103.0l10.65,18.45h-21.30zM1470.3,1005.2l10.65,18.45h-21.30zM1743.2,1092.1l10.65,18.45h-21.30zM1445.6,1052.7l10.65,18.45h-21.30zM1904.6,1242.2l10.65,18.45h-21.30zM1899.4,1225.2l10.65,18.45h-21.30zM1662.7,940.7l10.65,18.45h-21.30zM1479.2,961.2l10.65,18.45h-21.30zM1756.0,1220.3l10.65,18.45h-21.30zM1447.8,1145.3l10.65,18.45h-21.30zM1435.7,1030.9l10.65,18.45h-21.30zM1628.5,1023.5l10.65,18.45h-21.30zM1484.2,939.0l10.65,18.45h-21.30zM1858.2,1222.6l10.65,18.45h-21.30zM1424.1,903.8l10.65,18.45h-21.30zM1358.4,1036.9l10.65,18.45h-21.30zM1701.1,1157.8l10.65,18.45h-21.30zM1615.3,1207.7l10.65,18.45h-21.30zM1852.7,1120.9l10.65,18.45h-21.30zM1396.9,1069.6l10.65,18.45h-21.30zM1709.3,1098.4l10.65,18.45h-21.30zM1694.8,1096.5l10.65,18.45h-21.30zM1511.9,1083.8l10.65,18.45h-21.30zM1440.0,1096.5l10.65,18.45h-21.30zM1702.3,1074.9l10.65,18.45h-21.30zM1666.8,1096.5l10.65,18.45h-21.30zM1788.5,1264.1l10.65,18.45h-21.30zM1723.2,1064.5l10.65,18.45h-21.30zM1380.3,923.2l10.65,18.45h-21.30zM1477.9,949.9l10.65,18.45h-21.30zM1400.7,990.0l10.65,18.45h-21.30zM1937.8,1206.3l10.65,18.45h-21.30zM1861.6,1231.5l10.65,18.45h-21.30zM1653.9,1144.0l10.65,18.45h-21.30zM1791.3,1207.9l10.65,18.45h-21.30zM1440.8,1011.9l10.65,18.45h-21.30zM1421.4,1086.8l10.65,18.45h-21.30zM1380.7,989.0l10.65,18.45h-21.30zM1722.3,1200.2l10.65,18.45h-21.30zM1886.7,1185.5l10.65,18.45h-21.30zM1382.8,941.3l10.65,18.45h-21.30zM1770.9,1109.6l10.65,18.45h-21.30zM1574.9,980.5l10.65,18.45h-21.30zM1877.5,1090.4l10.65,18.45h-21.30zM1615.6,1101.3l10.65,18.45h-21.30zM1574.5,1002.1l10.65,18.45h-21.30zM1704.1,1162.6l10.65,18.45h-21.30zM1627.1,1217.6l10.65,18.45h-21.30zM1476.3,1194.5l10.65,18.45h-21.30zM1755.1,1034.2l10.65,18.45h-21.30zM1654.9,967.8l10.65,18.45h-21.30zM1741.1,1096.4l10.65,18.45h-21.30zM1672.8,1107.5l10.65,18.45h-21.30zM1495.8,909.8l10.65,18.45h-21.30zM1385.5,912.2l10.65,18.45h-21.30zM1429.3,1085.6l10.65,18.45h-21.30zM1838.8,1088.8l10.65,18.45h-21.30zM1758.2,1172.2l10.65,18.45h-21.30zM1532.7,1040.0l10.65,18.45h-21.30zM1514.4,1141.1l10.65,18.45h-21.30zM1562.9,1024.9l10.65,18.45h-21.30zM1765.0,1094.8l10.65,18.45h-21.30zM1851.1,1196.3l10.65,18.45h-21.30zM1562.0,990.2l10.65,18.45h-21.30zM1385.0,1084.8l10.65,18.45h-21.30zM1516.0,990.5l10.65,18.45h-21.30zM1559.0,1077.2l10.65,18.45h-21.30zM1490.8,1075.2l10.65,18.45h-21.30zM1804.1,1172.4l10.65,18.45h-21.30zM1392.2,970.6l10.65,18.45h-21.30zM1755.3,1124.8l10.65,18.45h-21.30zM1893.7,1249.2l10.65,18.45h-21.30zM1710.7,1116.1l10.65,18.45h-21.30zM1631.8,1170.3l10.65,18.45h-21.30zM1615.0,1141.2l10.65,18.45h-21.30zM1579.3,1216.5l10.65,18.45h-21.30zM1564.0,1236.9l10.65,18.45h-21.30zM1711.9,1148.3l10.65,18.45h-21.30zM1652.9,983.5l10.65,18.45h-21.30zM1627.8,1053.2l10.65,18.45h-21.30zM1663.1,1119.7l10.65,18.45h-21.30zM1480.7,952.4l10.65,18.45h-21.30zM1708.6,1221.5l10.65,18.45h-21.30zM1751.4,1143.1l10.65,18.45h-21.30zM1492.5,1012.1l10.65,18.45h-21.30zM1851.1,1175.4l10.65,18.45h-21.30zM1655.4,1157.3l10.65,18.45h-21.30zM1539.7,1064.5l10.65,18.45h-21.30zM1701.7,1060.0l10.65,18.45h-21.30zM1702.2,1163.2l10.65,18.45h-21.30zM1512.7,1171.9l10.65,18.45h-21.30zM1539.4,1016.5l10.65,18.45h-21.30zM1448.9,1036.1l10.65,18.45h-21.30zM1425.4,1028.3l10.65,18.45h-21.30zM1739.9,1179.7l10.65,18.45h-21.30zM1428.6,1046.4l10.65,18.45h-21.30zM1703.4,1177.6l10.65,18.45h-21.30zM1527.6,1054.1l10.65,18.45h-21.30zM1529.3,1061.8l10.65,18.45h-21.30zM1893.5,1105.4l10.65,18.45h-21.30zM1609.8,1223.2l10.65,18.45h-21.30zM1699.7,1071.1l10.65,18.45h-21.30zM1656.7,1048.4l10.65,18.45h-21.30zM1569.1,1001.1l10.65,18.45h-21.30zM1438.3,1011.3l10.65,18.45h-21.30zM1748.1,1020.4l10.65,18.45h-21.30zM1673.3,992.3l10.65,18.45h-21.30zM1526.2,1056.6l10.65,18.45h-21.30zM1625.2,1070.6l10.65,18.45h-21.30zM1473.8,1003.0l10.65,18.45h-21.30zM1752.8,1163.4l10.65,18.45h-21.30zM1533.0,1084.4l10.65,18.45h-21.30zM1748.2,1136.4l10.65,18.45h-21.30zM1769.6,1275.4l10.65,18.45h-21.30zM1492.1,1053.9l10.65,18.45h-21.30zM1631.6,983.5l10.65,18.45h-21.30zM1839.1,1216.0l10.65,18.45h-21.30zM1721.8,1110.8l10.65,18.45h-21.30zM1676.1,1099.3l10.65,18.45h-21.30zM1791.0,1138.8l10.65,18.45h-21.30zM1568.4,1018.6l10.65,18.45h-21.30zM1389.6,926.0l10.65,18.45h-21.30zM1831.6,1126.6l10.65,18.45h-21.30zM1564.2,1068.6l10.65,18.45h-21.30zM1441.4,1015.9l10.65,18.45h-21.30zM1345.8,1081.0l10.65,18.45h-21.30zM1435.5,963.7l10.65,18.45h-21.30zM1606.9,1086.5l10.65,18.45h-21.30zM1562.6,1131.1l10.65,18.45h-21.30zM1561.6,990.9l10.65,18.45h-21.30zM1566.0,1032.4l10.65,18.45h-21.30zM1709.6,1237.3l10.65,18.45h-21.30zM1881.9,1200.7l10.65,18.45h-21.30zM1621.2,1129.9l10.65,18.45h-21.30zM1496.9,1030.1l10.65,18.45h-21.30zM1536.4,1093.9l10.65,18.45h-21.30zM1438.8,1019.6l10.65,18.45h-21.30zM1420.8,1044.6l10.65,18.45h-21.30zM1716.3,1021.5l10.65,18.45h-21.30zM1795.8,1192.0l10.65,18.45h-21.30zM1336.3,981.9l10.65,18.45h-21.30zM1604.4,963.4l10.65,18.45h-21.30zM1793.4,1062.3l10.65,18.45h-21.30zM1666.2,1094.4l10.65,18.45h-21.30zM1814.0,1052.0l10.65,18.45h-21.30zM1668.5,1066.9l10.65,18.45h-21.30zM1857.5,1161.8l10.65,18.45h-21.30zM1465.2,905.7l10.65,18.45h-21.30zM1351.3,1016.3l10.65,18.45h-21.30zM1710.2,1111.8l10.65,18.45h-21.30zM1494.5,994.6l10.65,18.45h-21.30zM1577.0,1070.1l10.65,18.45h-21.30zM1617.8,968.5l10.65,18.45h-21.30zM1514.1,921.9l10.65,18.45h-21.30zM1534.2,908.6l10.65,18.45h-21.30zM1809.0,1125.1l10.65,18.45h-21.30zM1664.2,972.9l10.65,18.45h-21.30zM1583.5,1123.8l10.65,18.45h-21.30zM1706.3,1060.1l10.65,18.45h-21.30zM1661.6,1005.1l10.65,18.45h-21.30zM1833.5,1137.0l10.65,18.45h-21.30zM1515.6,1111.5l10.65,18.45h-21.30zM1487.6,968.4l10.65,18.45h-21.30zM1702.3,1100.0l10.65,18.45h-21.30zM1441.5,930.6l10.65,18.45h-21.30zM1929.6,1243.6l10.65,18.45h-21.30zM1745.7,1116.8l10.65,18.45h-21.30zM1906.8,1113.4l10.65,18.45h-21.30zM1890.0,1214.4l10.65,18.45h-21.30zM1582.1,1167.0l10.65,18.45h-21.30zM1560.7,1045.6l10.65,18.45h-21.30zM1631.1,1091.0l10.65,18.45h-21.30zM1533.2,1045.4l10.65,18.45h-21.30zM1757.5,1116.0l10.65,18.45h-21.30zM1430.2,958.8l10.65,18.45h-21.30zM1763.0,1224.4l10.65,18.45h-21.30zM1650.4,1159.7l10.65,18.45h-21.30zM1798.1,1041.9l10.65,18.45h-21.30zM1739.3,1133.3l10.65,18.45h-21.30zM1745.0,1026.4l10.65,18.45h-21.30zM1574.3,1113.9l10.65,18.45h-21.30zM1400.7,987.6l10.65,18.45h-21.30zM1706.9,1067.1l10.65,18.45h-21.30zM1751.5,1227.9l10.65,18.45h-21.30zM1568.0,1013.5l10.65,18.45h-21.30zM1564.0,1037.6l10.65,18.45h-21.30zM1377.7,968.4l10.65,18.45h-21.30zM1432.4,1084.7l10.65,18.45h-21.30zM1898.5,1230.2l10.65,18.45h-21.30zM1628.6,1195.3l10.65,18.45h-21.30zM1612.3,1083.4l10.65,18.45h-21.30zM1715.8,1274.9l10.65,18.45h-21.30zM1626.0,1081.8l10.65,18.45h-21.30zM1708.3,1159.0l10.65,18.45h-21.30zM1538.3,1020.1l10.65,18.45h-21.30zM1432.1,1051.1l10.65,18.45h-21.30zM1673.1,1110.4l10.65,18.45h-21.30zM1745.2,1080.1l10.65,18.45h-21.30zM1576.1,1165.7l10.65,18.45h-21.30zM1580.0,1215.0l10.65,18.45h-21.30zM1769.4,1145.6l10.65,18.45h-21.30zM1421.3,910.2l10.65,18.45h-21.30zM1657.2,1043.0l10.65,18.45h-21.30zM1661.8,1100.9l10.65,18.45h-21.30zM1477.6,986.9l10.65,18.45h-21.30zM1789.7,1096.2l10.65,18.45h-21.30zM1474.3,1100.0l10.65,18.45h-21.30zM1892.1,1166.3l10.65,18.45h-21.30zM1858.8,1116.9l10.65,18.45h-21.30zM1791.6,1089.6l10.65,18.45h-21.30zM1432.8,1161.3l10.65,18.45h-21.30zM1535.5,1095.5l10.65,18.45h-21.30zM1661.4,1168.3l10.65,18.45h-21.30zM1343.5,940.8l10.65,18.45h-21.30zM1621.8,1066.7l10.65,18.45h-21.30zM1587.4,1058.2l10.65,18.45h-21.30zM1426.2,985.2l10.65,18.45h-21.30zM1768.6,1176.1l10.65,18.45h-21.30zM1812.6,1232.1l10.65,18.45h-21.30zM1512.0,956.0l10.65,18.45h-21.30zM1564.8,1142.6l10.65,18.45h-21.30zM1511.3,1006.8l10.65,18.45h-21.30zM1798.6,1181.3l10.65,18.45h-21.30zM1490.7,1020.6l10.65,18.45h-21.30zM1493.1,1107.3l10.65,18.45h-21.30zM1619.0,1099.1l10.65,18.45h-21.30zM1660.1,1156.4l10.65,18.45h-21.30zM1396.0,1084.1l10.65,18.45h-21.30zM1706.3,1000.6l10.65,18.45h-21.30zM1527.6,1123.4l10.65,18.45h-21.30zM1403.1,1027.1l10.65,18.45h-21.30zM1471.2,1125.6l10.65,18.45h-21.30zM1395.4,977.0l10.65,18.45h-21.30zM1522.0,1076.5l10.65,18.45h-21.30zM1631.7,1139.5l10.65,18.45h-21.30zM1618.0,1154.7l10.65,18.45h-21.30zM1467.8,1087.3l10.65,18.45h-21.30zM1436.7,1109.6l10.65,18.45h-21.30zM1382.0,1112.2l10.65,18.45h-21.30zM1396.7,1131.7l10.65,18.45h-21.30zM1664.4,1180.3l10.65,18.45h-21.30zM1804.7,1259.2l10.65,18.45h-21.30zM1516.8,1112.5l10.65,18.45h-21.30zM1710.9,1219.9l10.65,18.45h-21.30zM1808.2,1034.1l10.65,18.45h-21.30zM1524.9,1027.5l10.65,18.45h-21.30zM1812.6,1097.2l10.65,18.45h-21.30zM1435.3,1064.6l10.65,18.45h-21.30zM1563.8,1072.1l10.65,18.45h-21.30zM1676.2,1087.0l10.65,18.45h-21.30zM1813.2,1116.6l10.65,18.45h-21.30zM1763.9,1099.7l10.65,18.45h-21.30zM1653.3,1188.3l10.65,18.45h-21.30zM1583.8,1114.1l10.65,18.45h-21.30zM1654.1,1042.9l10.65,18.45h-21.30zM1494.8,1046.0l10.65,18.45h-21.30zM1698.8,1190.6l10.65,18.45h-21.30zM1572.0,989.5l10.65,18.45h-21.30zM1801.2,1097.9l10.65,18.45h-21.30zM1813.6,1066.3l10.65,18.45h-21.30zM1436.3,933.5l10.65,18.45h-21.30zM1812.9,1225.3l10.65,18.45h-21.30zM1693.9,1081.6l10.65,18.45h-21.30zM1746.3,1148.3l10.65,18.45h-21.30zM1675.7,1017.4l10.65,18.45h-21.30zM1565.7,1106.9l10.65,18.45h-21.30zM1769.2,1259.6l10.65,18.45h-21.30zM1391.8,991.8l10.65,18.45h-21.30zM1537.2,915.2l10.65,18.45h-21.30zM1434.3,1058.2l10.65,18.45h-21.30zM1674.1,1134.1l10.65,18.45h-21.30zM1512.1,1077.4l10.65,18.45h-21.30zM1803.1,1171.7l10.65,18.45h-21.30zM1889.1,1117.5l10.65,18.45h-21.30zM1561.6,1075.9l10.65,18.45h-21.30zM1395.5,1058.8l10.65,18.45h-21.30zM1751.7,1109.3l10.65,18.45h-21.30zM1699.6,1176.4l10.65,18.45h-21.30zM1764.3,1033.7l10.65,18.45h-21.30zM1805.7,1194.8l10.65,18.45h-21.30zM1649.1,1205.5l10.65,18.45h-21.30zM1485.7,958.5l10.65,18.45h-21.30zM1842.1,1194.7l10.65,18.45h-21.30zM1584.9,986.2l10.65,18.45h-21.30zM1715.9,1209.9l10.65,18.45h-21.30zM1663.4,1150.1l10.65,18.45h-21.30zM1628.8,1170.9l10.65,18.45h-21.30zM1703.7,1181.4l10.65,18.45h-21.30zM1378.7,941.7l10.65,18.45h-21.30zM1847.3,1052.3l10.65,18.45h-21.30zM1619.0,1155.3l10.65,18.45h-21.30zM1764.3,1099.5l10.65,18.45h-21.30zM1603.9,1151.4l10.65,18.45h-21.30zM1566.5,1052.3l10.65,18.45h-21.30zM1565.4,1083.0l10.65,18.45h-21.30zM1673.0,1072.5l10.65,18.45h-21.30zM1516.5,1022.3l10.65,18.45h-21.30zM1521.8,966.3l10.65,18.45h-21.30zM1723.2,1027.9l10.65,18.45h-21.30zM1537.4,1129.8l10.65,18.45h-21.30zM1535.8,1184.3l10.65,18.45h-21.30zM1492.9,958.8l10.65,18.45h-21.30zM1634.1,1097.1l10.65,18.45h-21.30zM1861.6,1093.2l10.65,18.45h-21.30zM1706.1,1180.6l10.65,18.45h-21.30zM1675.3,1157.1l10.65,18.45h-21.30zM1432.5,1026.6l10.65,18.45h-21.30zM1523.6,947.7l10.65,18.45h-21.30zM1748.8,1180.7l10.65,18.45h-21.30zM1724.0,1225.5l10.65,18.45h-21.30zM1560.9,1064.9l10.65,18.45h-21.30zM1486.9,1066.5l10.65,18.45h-21.30zM1853.1,1104.8l10.65,18.45h-21.30zM1808.4,1166.7l10.65,18.45h-21.30zM1713.1,1263.7l10.65,18.45h-21.30zM1578.7,1121.3l10.65,18.45h-21.30zM1615.2,1030.4l10.65,18.45h-21.30zM1442.2,740.3l10.65,18.45h-21.30zM1379.5,784.9l10.65,18.45h-21.30zM1440.0,817.9l10.65,18.45h-21.30zM1385.4,833.5l10.65,18.45h-21.30zM1306.5,815.2l10.65,18.45h-21.30zM1254.3,786.2l10.65,18.45h-21.30zM1258.4,852.5l10.65,18.45h-21.30zM1332.2,884.4l10.65,18.45h-21.30zM1431.4,874.1l10.65,18.45h-21.30zM1565.1,838.9l10.65,18.45h-21.30zM1541.6,852.5l10.65,18.45h-21.30zM1519.2,861.9l10.65,18.45h-21.30zM1513.0,871.4l10.65,18.45h-21.30zM1521.9,875.4l10.65,18.45h-21.30zM1711.1,906.5l10.65,18.45h-21.30zM1567.3,898.4l10.65,18.45h-21.30zM1244.9,959.2l10.65,18.45h-21.30zM1248.9,979.5l10.65,18.45h-21.30zM1285.4,974.6l10.65,18.45h-21.30zM1290.8,997.1l10.65,18.45h-21.30zM1309.2,1001.1l10.65,18.45h-21.30zM1766.8,970.4l10.65,18.45h-21.30zM1711.4,955.9l10.65,18.45h-21.30zM1885.6,1069.7l10.65,18.45h-21.30zM1932.7,1085.5l10.65,18.45h-21.30zM1978.6,1128.2l10.65,18.45h-21.30zM1815.7,1362.0l10.65,18.45h-21.30zM1703.5,1321.2l10.65,18.45h-21.30zM1585.1,1301.7l10.65,18.45h-21.30zM1583.2,1288.7l10.65,18.45h-21.30zM1605.6,1284.2l10.65,18.45h-21.30zM1628.4,1295.7l10.65,18.45h-21.30zM1512.2,1263.2l10.65,18.45h-21.30zM1481.1,1345.7l10.65,18.45h-21.30zM1312.7,1210.9l10.65,18.45h-21.30zM1381.5,1204.2l10.65,18.45h-21.30zM1397.3,1237.7l10.65,18.45h-21.30zM1398.0,1168.2l10.65,18.45h-21.30zM1298.5,1108.7l10.65,18.45h-21.30zM1360.0,1153.1l10.65,18.45h-21.30zM1466.7,1209.3l10.65,18.45h-21.30zM1487.2,1182.6l10.65,18.45h-21.30zM1877.8,1286.3l10.65,18.45h-21.30z"/></g>
<g stroke="#2297E6"><path d="M1136.6,1247.2h24.0M1148.6,1235.2v24.0M1094.5,1288.8h24.0M1106.5,1276.8v24.0M1292.7,1327.5h24.0M1304.7,1315.5v24.0M1058.1,1348.3h24.0M1070.1,1336.3v24.0M1101.4,1431.8h24.0M1113.4,1419.8v24.0M1004.9,1483.4h24.0M1016.9,1471.4v24.0M1024.3,1276.2h24.0M1036.3,1264.2v24.0M1165.2,1445.8h24.0M1177.2,1433.8v24.0M1090.0,1457.9h24.0M1102.0,1445.9v24.0M1293.1,1242.4h24.0M1305.1,1230.4v24.0M1243.8,1336.7h24.0M1255.8,1324.7v24.0M1060.2,1468.7h24.0M1072.2,1456.7v24.0M1063.4,1390.5h24.0M1075.4,1378.5v24.0M926.4,1192.5h24.0M938.4,1180.5v24.0M1182.2,1333.1h24.0M1194.2,1321.1v24.0M927.6,1124.2h24.0M939.6,1112.2v24.0M921.3,1210.8h24.0M933.3,1198.8v24.0M976.7,1309.2h24.0M988.7,1297.2v24.0M1157.2,1366.4h24.0M1169.2,1354.4v24.0M1112.3,1261.3h24.0M1124.3,1249.3v24.0M1187.3,1302.1h24.0M1199.3,1290.1v24.0M1138.6,1216.1h24.0M1150.6,1204.1v24.0M817.2,1279.3h24.0M829.2,1267.3v24.0M768.1,1198.0h24.0M780.1,1186.0v24.0M1009.0,1435.1h24.0M1021.0,1423.1v24.0M885.3,1296.7h24.0M897.3,1284.7v24.0M965.2,1354.6h24.0M977.2,1342.6v24.0M1275.1,1254.2h24.0M1287.1,1242.2v24.0M935.0,1419.0h24.0M947.0,1407.0v24.0M1103.3,1200.1h24.0M1115.3,1188.1v24.0M1104.9,1154.7h24.0M1116.9,1142.7v24.0M1137.7,1326.0h24.0M1149.7,1314.0v24.0M1105.3,1458.2h24.0M1117.3,1446.2v24.0M819.0,1286.5h24.0M831.0,1274.5v24.0M1210.2,1432.3h24.0M1222.2,1420.3v24.0M1139.9,1421.8h24.0M1151.9,1409.8v24.0M1135.7,1157.4h24.0M1147.7,1145.4v24.0M1052.4,1323.3h24.0M1064.4,1311.3v24.0M917.2,1315.5h24.0M929.2,1303.5v24.0M933.5,1298.7h24.0M945.5,1286.7v24.0M1097.1,1331.4h24.0M1109.1,1319.4v24.0M1332.5,1235.0h24.0M1344.5,1223.0v24.0M951.0,1332.7h24.0M963.0,1320.7v24.0M1096.3,1153.0h24.0M1108.3,1141.0v24.0M1102.4,1310.3h24.0M1114.4,1298.3v24.0M835.0,1280.6h24.0M847.0,1268.6v24.0M1141.3,1434.3h24.0M1153.3,1422.3v24.0M977.1,1325.9h24.0M989.1,1313.9v24.0M1011.8,1286.9h24.0M1023.8,1274.9v24.0M1114.7,1256.3h24.0M1126.7,1244.3v24.0M928.7,1123.1h24.0M940.7,1111.1v24.0M1251.4,1332.1h24.0M1263.4,1320.1v24.0M970.5,1113.0h24.0M982.5,1101.0v24.0M768.7,1174.9h24.0M780.7,1162.9v24.0M1233.9,1471.3h24.0M1245.9,1459.3v24.0M790.0,1364.8h24.0M802.0,1352.8v24.0M1232.0,1346.7h24.0M1244.0,1334.7v24.0M871.1,1309.1h24.0M883.1,1297.1v24.0M1107.9,1177.6h24.0M1119.9,1165.6v24.0M1102.7,1384.0h24.0M1114.7,1372.0v24.0M884.3,1209.2h24.0M896.3,1197.2v24.0M960.4,1341.7h24.0M972.4,1329.7v24.0M932.9,1179.2h24.0M944.9,1167.2v24.0M906.5,1151.0h24.0M918.5,1139.0v24.0M1238.3,1272.0h24.0M1250.3,1260.0v24.0M1094.1,1190.7h24.0M1106.1,1178.7v24.0M999.8,1254.1h24.0M1011.8,1242.1v24.0M863.2,1184.3h24.0M875.2,1172.3v24.0M1023.7,1299.2h24.0M1035.7,1287.2v24.0M1099.1,1261.0h24.0M1111.1,1249.0v24.0M1058.5,1446.6h24.0M1070.5,1434.6v24.0M775.5,1189.8h24.0M787.5,1177.8v24.0M1189.2,1257.3h24.0M1201.2,1245.3v24.0M1013.1,1270.9h24.0M1025.1,1258.9v24.0M1255.1,1397.4h24.0M1267.1,1385.4v24.0M1225.3,1320.1h24.0M1237.3,1308.1v24.0M950.9,1362.8h24.0M962.9,1350.8v24.0M1240.3,1424.4h24.0M1252.3,1412.4v24.0M973.5,1193.4h24.0M985.5,1181.4v24.0M823.3,1130.7h24.0M835.3,1118.7v24.0M960.9,1287.3h24.0M972.9,1275.3v24.0M1054.9,1204.8h24.0M1066.9,1192.8v24.0M928.9,1349.3h24.0M940.9,1337.3v24.0M1151.0,1388.2h24.0M1163.0,1376.2v24.0M1027.5,1187.5h24.0M1039.5,1175.5v24.0M1185.5,1387.5h24.0M1197.5,1375.5v24.0M1271.8,1275.8h24.0M1283.8,1263.8v24.0M1209.6,1324.3h24.0M1221.6,1312.3v24.0M1385.1,1372.1h24.0M1397.1,1360.1v24.0M836.1,1205.0h24.0M848.1,1193.0v24.0M1146.0,1386.2h24.0M1158.0,1374.2v24.0M1242.4,1415.0h24.0M1254.4,1403.0v24.0M975.1,1332.7h24.0M987.1,1320.7v24.0M1113.9,1330.9h24.0M1125.9,1318.9v24.0M836.5,1403.0h24.0M848.5,1391.0v24.0M1204.7,1232.4h24.0M1216.7,1220.4v24.0M1299.7,1409.6h24.0M1311.7,1397.6v24.0M969.3,1410.2h24.0M981.3,1398.2v24.0M1295.5,1386.6h24.0M1307.5,1374.6v24.0M1052.9,1306.1h24.0M1064.9,1294.1v24.0M819.4,1343.5h24.0M831.4,1331.5v24.0M917.7,1092.9h24.0M929.7,1080.9v24.0M921.1,1184.0h24.0M933.1,1172.0v24.0M880.8,1169.3h24.0M892.8,1157.3v24.0M1056.3,1470.9h24.0M1068.3,1458.9v24.0M1066.1,1354.5h24.0M1078.1,1342.5v24.0M1043.1,1247.7h24.0M1055.1,1235.7v24.0M1300.8,1406.9h24.0M1312.8,1394.9v24.0M955.1,1140.5h24.0M967.1,1128.5v24.0M967.6,1438.1h24.0M979.6,1426.1v24.0M1022.8,1165.6h24.0M1034.8,1153.6v24.0M840.4,1197.1h24.0M852.4,1185.1v24.0M1256.5,1188.2h24.0M1268.5,1176.2v24.0M1146.9,1207.8h24.0M1158.9,1195.8v24.0M1254.0,1204.6h24.0M1266.0,1192.6v24.0M1142.5,1299.9h24.0M1154.5,1287.9v24.0M977.2,1390.0h24.0M989.2,1378.0v24.0M1226.8,1212.2h24.0M1238.8,1200.2v24.0M841.4,1374.1h24.0M853.4,1362.1v24.0M1165.2,1152.7h24.0M1177.2,1140.7v24.0M1073.5,1176.6h24.0M1085.5,1164.6v24.0M1088.5,1133.9h24.0M1100.5,1121.9v24.0M841.2,1322.5h24.0M853.2,1310.5v24.0M1114.8,1389.3h24.0M1126.8,1377.3v24.0M772.6,1336.3h24.0M784.6,1324.3v24.0M1027.0,1167.6h24.0M1039.0,1155.6v24.0M869.3,1322.9h24.0M881.3,1310.9v24.0M1138.5,1442.9h24.0M1150.5,1430.9v24.0M978.0,1397.6h24.0M990.0,1385.6v24.0M1117.2,1354.7h24.0M1129.2,1342.7v24.0M999.0,1187.2h24.0M1011.0,1175.2v24.0M998.8,1349.8h24.0M1010.8,1337.8v24.0M974.1,1376.2h24.0M986.1,1364.2v24.0M1186.7,1290.3h24.0M1198.7,1278.3v24.0M1110.7,1359.6h24.0M1122.7,1347.6v24.0M964.3,1256.1h24.0M976.3,1244.1v24.0M883.5,1352.2h24.0M895.5,1340.2v24.0M1240.7,1145.5h24.0M1252.7,1133.5v24.0M828.4,1277.0h24.0M840.4,1265.0v24.0M739.0,1329.6h24.0M751.0,1317.6v24.0M1018.2,1329.1h24.0M1030.2,1317.1v24.0M950.8,1248.5h24.0M962.8,1236.5v24.0M838.3,1246.4h24.0M850.3,1234.4v24.0M1018.8,1271.8h24.0M1030.8,1259.8v24.0M926.3,1425.8h24.0M938.3,1413.8v24.0M1101.7,1216.5h24.0M1113.7,1204.5v24.0M870.3,1330.3h24.0M882.3,1318.3v24.0M1192.5,1333.6h24.0M1204.5,1321.6v24.0M1099.0,1431.1h24.0M1111.0,1419.1v24.0M969.2,1227.3h24.0M981.2,1215.3v24.0M1242.4,1218.2h24.0M1254.4,1206.2v24.0M1284.7,1339.4h24.0M1296.7,1327.4v24.0M1240.3,1356.2h24.0M1252.3,1344.2v24.0M870.1,1259.0h24.0M882.1,1247.0v24.0M1152.6,1376.9h24.0M1164.6,1364.9v24.0M959.2,1148.2h24.0M971.2,1136.2v24.0M965.6,1173.5h24.0M977.6,1161.5v24.0M1206.4,1263.2h24.0M1218.4,1251.2v24.0M962.0,1131.8h24.0M974.0,1119.8v24.0M968.8,1432.2h24.0M980.8,1420.2v24.0M1155.7,1325.8h24.0M1167.7,1313.8v24.0M1274.0,1330.7h24.0M1286.0,1318.7v24.0M1016.2,1203.8h24.0M1028.2,1191.8v24.0M1316.3,1294.1h24.0M1328.3,1282.1v24.0M1253.4,1367.6h24.0M1265.4,1355.6v24.0M1067.7,1295.4h24.0M1079.7,1283.4v24.0M1158.1,1365.6h24.0M1170.1,1353.6v24.0M1341.2,1338.4h24.0M1353.2,1326.4v24.0M744.7,1184.9h24.0M756.7,1172.9v24.0M1070.6,1429.2h24.0M1082.6,1417.2v24.0M1061.1,1392.0h24.0M1073.1,1380.0v24.0M1110.7,1338.4h24.0M1122.7,1326.4v24.0M936.1,1294.0h24.0M948.1,1282.0v24.0M1344.9,1340.7h24.0M1356.9,1328.7v24.0M1049.7,1172.2h24.0M1061.7,1160.2v24.0M1026.8,1233.7h24.0M1038.8,1221.7v24.0M874.0,1251.5h24.0M886.0,1239.5v24.0M1156.5,1290.0h24.0M1168.5,1278.0v24.0M1141.3,1365.1h24.0M1153.3,1353.1v24.0M914.0,1147.1h24.0M926.0,1135.1v24.0M929.5,1321.6h24.0M941.5,1309.6v24.0M1282.8,1159.9h24.0M1294.8,1147.9v24.0M1333.3,1205.4h24.0M1345.3,1193.4v24.0M1098.5,1275.8h24.0M1110.5,1263.8v24.0M1072.7,1135.2h24.0M1084.7,1123.2v24.0M1238.5,1201.4h24.0M1250.5,1189.4v24.0M1044.9,1309.8h24.0M1056.9,1297.8v24.0M1145.4,1222.1h24.0M1157.4,1210.1v24.0M1207.2,1280.3h24.0M1219.2,1268.3v24.0M1020.1,1466.9h24.0M1032.1,1454.9v24.0M1254.1,1263.7h24.0M1266.1,1251.7v24.0M781.8,1181.4h24.0M793.8,1169.4v24.0M1001.0,1230.9h24.0M1013.0,1218.9v24.0M1114.2,1171.4h24.0M1126.2,1159.4v24.0M1156.7,1329.2h24.0M1168.7,1317.2v24.0M973.1,1275.4h24.0M985.1,1263.4v24.0M913.0,1255.9h24.0M925.0,1243.9v24.0M1109.7,1447.0h24.0M1121.7,1435.0v24.0M976.8,1184.5h24.0M988.8,1172.5v24.0M980.2,1482.1h24.0M992.2,1470.1v24.0M1277.6,1286.7h24.0M1289.6,1274.7v24.0M1020.3,1266.0h24.0M1032.3,1254.0v24.0M1234.8,1265.9h24.0M1246.8,1253.9v24.0M817.6,1319.9h24.0M829.6,1307.9v24.0M953.4,1246.3h24.0M965.4,1234.3v24.0M1008.0,1293.0h24.0M1020.0,1281.0v24.0M961.3,1204.4h24.0M973.3,1192.4v24.0M953.2,1386.8h24.0M965.2,1374.8v24.0M877.0,1190.1h24.0M889.0,1178.1v24.0M1097.1,1302.6h24.0M1109.1,1290.6v24.0M1106.3,1276.1h24.0M1118.3,1264.1v24.0M1046.8,1299.8h24.0M1058.8,1287.8v24.0M1056.8,1266.7h24.0M1068.8,1254.7v24.0M1054.9,1137.2h24.0M1066.9,1125.2v24.0M1231.7,1232.7h24.0M1243.7,1220.7v24.0M1186.2,1493.0h24.0M1198.2,1481.0v24.0M877.7,1419.0h24.0M889.7,1407.0v24.0M951.9,1328.4h24.0M963.9,1316.4v24.0M838.5,1337.2h24.0M850.5,1325.2v24.0M1183.9,1368.7h24.0M1195.9,1356.7v24.0M1195.4,1225.6h24.0M1207.4,1213.6v24.0M1042.2,1146.4h24.0M1054.2,1134.4v24.0M1060.7,1258.8h24.0M1072.7,1246.8v24.0M908.8,1185.1h24.0M920.8,1173.1v24.0M962.6,1479.1h24.0M974.6,1467.1v24.0M1094.1,1190.0h24.0M1106.1,1178.0v24.0M982.6,1246.9h24.0M994.6,1234.9v24.0M913.9,1339.2h24.0M925.9,1327.2v24.0M1054.5,1321.0h24.0M1066.5,1309.0v24.0M1093.2,1350.3h24.0M1105.2,1338.3v24.0M799.6,1277.9h24.0M811.6,1265.9v24.0M1297.1,1396.3h24.0M1309.1,1384.3v24.0M921.5,1213.4h24.0M933.5,1201.4v24.0M1208.4,1255.3h24.0M1220.4,1243.3v24.0M956.2,1229.1h24.0M968.2,1217.1v24.0M832.1,1180.1h24.0M844.1,1168.1v24.0M1064.4,1402.2h24.0M1076.4,1390.2v24.0M971.9,1297.6h24.0M983.9,1285.6v24.0M740.7,1229.5h24.0M752.7,1217.5v24.0M1210.3,1404.5h24.0M1222.3,1392.5v24.0M979.3,1292.4h24.0M991.3,1280.4v24.0M980.8,1208.9h24.0M992.8,1196.9v24.0M1097.4,1459.6h24.0M1109.4,1447.6v24.0M1106.2,1366.9h24.0M1118.2,1354.9v24.0M1071.6,1196.4h24.0M1083.6,1184.4v24.0M833.6,1234.9h24.0M845.6,1222.9v24.0M751.7,1212.4h24.0M763.7,1200.4v24.0M1113.1,1273.8h24.0M1125.1,1261.8v24.0M1180.7,1462.0h24.0M1192.7,1450.0v24.0M1139.5,1392.0h24.0M1151.5,1380.0v24.0M924.8,1160.2h24.0M936.8,1148.2v24.0M1105.2,1286.5h24.0M1117.2,1274.5v24.0M1146.5,1365.8h24.0M1158.5,1353.8v24.0M1104.5,1123.7h24.0M1116.5,1111.7v24.0M1098.3,1188.7h24.0M1110.3,1176.7v24.0M872.9,1286.7h24.0M884.9,1274.7v24.0M951.1,1407.7h24.0M963.1,1395.7v24.0M1187.1,1275.7h24.0M1199.1,1263.7v24.0M1103.3,1266.0h24.0M1115.3,1254.0v24.0M1048.4,1359.3h24.0M1060.4,1347.3v24.0M1160.9,1396.3h24.0M1172.9,1384.3v24.0M1325.8,1259.5h24.0M1337.8,1247.5v24.0M961.9,1353.4h24.0M973.9,1341.4v24.0M1112.4,1209.5h24.0M1124.4,1197.5v24.0M1010.2,1289.4h24.0M1022.2,1277.4v24.0M775.9,1320.1h24.0M787.9,1308.1v24.0M1021.2,1352.9h24.0M1033.2,1340.9v24.0M1379.3,1375.5h24.0M1391.3,1363.5v24.0M973.3,1189.8h24.0M985.3,1177.8v24.0M930.5,1138.9h24.0M942.5,1126.9v24.0M1270.9,1293.4h24.0M1282.9,1281.4v24.0M1058.3,1354.9h24.0M1070.3,1342.9v24.0M1158.6,1445.7h24.0M1170.6,1433.7v24.0M1013.3,1212.5h24.0M1025.3,1200.5v24.0M1329.3,1275.3h24.0M1341.3,1263.3v24.0M1153.4,1400.5h24.0M1165.4,1388.5v24.0M1297.9,1328.1h24.0M1309.9,1316.1v24.0M1018.2,1428.6h24.0M1030.2,1416.6v24.0M1154.6,1109.6h24.0M1166.6,1097.6v24.0M1049.8,1245.9h24.0M1061.8,1233.9v24.0M1232.9,1217.3h24.0M1244.9,1205.3v24.0M917.1,1358.2h24.0M929.1,1346.2v24.0M1237.0,1371.1h24.0M1249.0,1359.1v24.0M1367.4,1395.1h24.0M1379.4,1383.1v24.0M1136.5,1474.5h24.0M1148.5,1462.5v24.0M1141.3,1204.1h24.0M1153.3,1192.1v24.0M1244.6,1262.2h24.0M1256.6,1250.2v24.0M1251.5,1234.0h24.0M1263.5,1222.0v24.0M1202.2,1410.3h24.0M1214.2,1398.3v24.0M1018.5,1472.5h24.0M1030.5,1460.5v24.0M1057.2,1150.2h24.0M1069.2,1138.2v24.0M877.0,1216.6h24.0M889.0,1204.6v24.0M916.0,1302.1h24.0M928.0,1290.1v24.0M923.3,1259.3h24.0M935.3,1247.3v24.0M1187.3,1322.6h24.0M1199.3,1310.6v24.0M1103.2,1302.9h24.0M1115.2,1290.9v24.0M843.1,1177.1h24.0M855.1,1165.1v24.0M863.4,1358.2h24.0M875.4,1346.2v24.0M1070.5,1328.0h24.0M1082.5,1316.0v24.0M1071.2,1127.5h24.0M1083.2,1115.5v24.0M1146.0,1385.5h24.0M1158.0,1373.5v24.0M743.6,1214.7h24.0M755.6,1202.7v24.0M798.3,1338.5h24.0M810.3,1326.5v24.0M1143.4,1326.8h24.0M1155.4,1314.8v24.0M1205.7,1478.7h24.0M1217.7,1466.7v24.0M1056.3,1330.7h24.0M1068.3,1318.7v24.0M1163.7,1436.0h24.0M1175.7,1424.0v24.0M834.0,1297.7h24.0M846.0,1285.7v24.0M921.2,1406.9h24.0M933.2,1394.9v24.0M1200.5,1316.6h24.0M1212.5,1304.6v24.0M1019.9,1319.4h24.0M1031.9,1307.4v24.0M1138.9,1341.5h24.0M1150.9,1329.5v24.0M1330.9,1313.0h24.0M1342.9,1301.0v24.0M1025.9,1147.0h24.0M1037.9,1135.0v24.0M1104.3,1380.0h24.0M1116.3,1368.0v24.0M1053.9,1446.8h24.0M1065.9,1434.8v24.0M1274.4,1345.8h24.0M1286.4,1333.8v24.0M1065.4,1121.3h24.0M1077.4,1109.3v24.0M1139.3,1411.6h24.0M1151.3,1399.6v24.0M1067.9,1291.2h24.0M1079.9,1279.2v24.0M877.5,1202.5h24.0M889.5,1190.5v24.0M876.8,1270.3h24.0M888.8,1258.3v24.0M1097.2,1327.0h24.0M1109.2,1315.0v24.0M1345.5,1282.7h24.0M1357.5,1270.7v24.0M1012.5,1107.3h24.0M1024.5,1095.3v24.0M999.5,1271.6h24.0M1011.5,1259.6v24.0M1226.0,1322.6h24.0M1238.0,1310.6v24.0M1117.8,1338.7h24.0M1129.8,1326.7v24.0M1022.4,1361.3h24.0M1034.4,1349.3v24.0M913.5,1221.5h24.0M925.5,1209.5v24.0M1134.8,1261.6h24.0M1146.8,1249.6v24.0M790.0,1352.8h24.0M802.0,1340.8v24.0M1242.7,1370.5h24.0M1254.7,1358.5v24.0M1010.6,1125.3h24.0M1022.6,1113.3v24.0M1045.8,1168.2h24.0M1057.8,1156.2v24.0M1109.7,1341.1h24.0M1121.7,1329.1v24.0M1210.7,1312.9h24.0M1222.7,1300.9v24.0M1181.9,1200.8h24.0M1193.9,1188.8v24.0M958.9,1334.9h24.0M970.9,1322.9v24.0M1001.1,1242.9h24.0M1013.1,1230.9v24.0M974.7,1347.6h24.0M986.7,1335.6v24.0M926.2,1141.5h24.0M938.2,1129.5v24.0M936.1,1185.0h24.0M948.1,1173.0v24.0M1103.5,1318.5h24.0M1115.5,1306.5v24.0M1253.8,1252.6h24.0M1265.8,1240.6v24.0M837.3,1330.8h24.0M849.3,1318.8v24.0M1238.4,1258.6h24.0M1250.4,1246.6v24.0M1244.5,1274.0h24.0M1256.5,1262.0v24.0M815.6,1219.9h24.0M827.6,1207.9v24.0M888.0,1157.7h24.0M900.0,1145.7v24.0M1243.0,1192.3h24.0M1255.0,1180.3v24.0M1042.7,1219.4h24.0M1054.7,1207.4v24.0M963.7,1187.3h24.0M975.7,1175.3v24.0M1151.3,1356.6h24.0M1163.3,1344.6v24.0M997.0,1376.3h24.0M1009.0,1364.3v24.0M1066.0,1285.4h24.0M1078.0,1273.4v24.0M1141.5,1324.7h24.0M1153.5,1312.7v24.0M1055.0,1343.3h24.0M1067.0,1331.3v24.0M1090.7,1312.8h24.0M1102.7,1300.8v24.0M1062.5,1329.1h24.0M1074.5,1317.1v24.0M982.0,1243.0h24.0M994.0,1231.0v24.0M1163.6,1365.8h24.0M1175.6,1353.8v24.0M1316.5,1185.7h24.0M1328.5,1173.7v24.0M1104.5,1301.3h24.0M1116.5,1289.3v24.0M1143.6,1277.6h24.0M1155.6,1265.6v24.0M843.7,1279.7h24.0M855.7,1267.7v24.0M1018.5,1384.9h24.0M1030.5,1372.9v24.0M922.7,1345.9h24.0M934.7,1333.9v24.0M1119.2,1390.2h24.0M1131.2,1378.2v24.0M1153.4,1342.9h24.0M1165.4,1330.9v24.0M1018.6,1409.3h24.0M1030.6,1397.3v24.0M1094.9,1351.9h24.0M1106.9,1339.9v24.0M1028.2,1144.0h24.0M1040.2,1132.0v24.0M910.9,1383.7h24.0M922.9,1371.7v24.0M1336.8,1286.1h24.0M1348.8,1274.1v24.0M1205.9,1483.6h24.0M1217.9,1471.6v24.0M1161.2,1341.0h24.0M1173.2,1329.0v24.0M752.3,1220.7h24.0M764.3,1208.7v24.0M1047.6,1232.3h24.0M1059.6,1220.3v24.0M978.5,1140.8h24.0M990.5,1128.8v24.0M1016.0,1199.0h24.0M1028.0,1187.0v24.0M834.8,1261.8h24.0M846.8,1249.8v24.0M819.7,1264.4h24.0M831.7,1252.4v24.0M1192.2,1419.2h24.0M1204.2,1407.2v24.0M727.7,1245.0h24.0M739.7,1233.0v24.0M1006.2,1474.2h24.0M1018.2,1462.2v24.0M982.1,1332.9h24.0M994.1,1320.9v24.0M837.0,1207.5h24.0M849.0,1195.5v24.0M1329.5,1388.3h24.0M1341.5,1376.3v24.0M751.7,1245.4h24.0M763.7,1233.4v24.0M937.0,1149.9h24.0M949.0,1137.9v24.0M1365.0,1338.7h24.0M1377.0,1326.7v24.0M916.7,1250.8h24.0M928.7,1238.8v24.0M1162.2,1219.0h24.0M1174.2,1207.0v24.0M888.7,1188.2h24.0M900.7,1176.2v24.0M1140.4,1304.1h24.0M1152.4,1292.1v24.0M1003.7,1403.8h24.0M1015.7,1391.8v24.0M1113.6,1360.5h24.0M1125.6,1348.5v24.0M1252.2,1418.3h24.0M1264.2,1406.3v24.0M1088.3,1405.9h24.0M1100.3,1393.9v24.0M1198.8,1382.5h24.0M1210.8,1370.5v24.0M1289.3,1312.5h24.0M1301.3,1300.5v24.0M923.6,1144.9h24.0M935.6,1132.9v24.0M974.0,1227.1h24.0M986.0,1215.1v24.0M1053.2,1147.4h24.0M1065.2,1135.4v24.0M952.0,1348.7h24.0M964.0,1336.7v24.0M1271.5,1299.2h24.0M1283.5,1287.2v24.0M1007.7,1274.1h24.0M1019.7,1262.1v24.0M1092.2,1332.4h24.0M1104.2,1320.4v24.0M926.7,1443.1h24.0M938.7,1431.1v24.0M1244.7,1461.8h24.0M1256.7,1449.8v24.0M1188.6,1376.1h24.0M1200.6,1364.1v24.0M911.1,1287.3h24.0M923.1,1275.3v24.0M1325.5,1328.6h24.0M1337.5,1316.6v24.0M973.8,1423.9h24.0M985.8,1411.9v24.0M1100.9,1481.3h24.0M1112.9,1469.3v24.0M1227.3,1462.5h24.0M1239.3,1450.5v24.0M1203.4,1236.5h24.0M1215.4,1224.5v24.0M868.7,1361.7h24.0M880.7,1349.7v24.0M1137.0,1218.1h24.0M1149.0,1206.1v24.0M1371.9,1246.7h24.0M1383.9,1234.7v24.0M865.1,1320.6h24.0M877.1,1308.6v24.0M1158.9,1128.9h24.0M1170.9,1116.9v24.0M1155.1,1391.2h24.0M1167.1,1379.2v24.0M1327.0,1421.6h24.0M1339.0,1409.6v24.0M1253.9,1309.9h24.0M1265.9,1297.9v24.0M954.3,1352.1h24.0M966.3,1340.1v24.0M996.8,1318.1h24.0M1008.8,1306.1v24.0M826.4,1122.7h24.0M838.4,1110.7v24.0M1285.8,1265.9h24.0M1297.8,1253.9v24.0M921.1,1328.1h24.0M933.1,1316.1v24.0M888.2,1210.1h24.0M900.2,1198.1v24.0M1227.6,1333.1h24.0M1239.6,1321.1v24.0M844.8,1421.9h24.0M856.8,1409.9v24.0M912.3,1407.5h24.0M924.3,1395.5v24.0M1107.1,1302.7h24.0M1119.1,1290.7v24.0M1111.6,1332.7h24.0M1123.6,1320.7v24.0M1105.4,1484.7h24.0M1117.4,1472.7v24.0M1099.2,1237.7h24.0M1111.2,1225.7v24.0M1149.6,1265.8h24.0M1161.6,1253.8v24.0M1010.9,1234.2h24.0M1022.9,1222.2v24.0M974.4,1337.1h24.0M986.4,1325.1v24.0M796.1,1329.1h24.0M808.1,1317.1v24.0M1004.7,1295.4h24.0M1016.7,1283.4v24.0M1142.2,1340.8h24.0M1154.2,1328.8v24.0M980.9,1267.6h24.0M992.9,1255.6v24.0M905.8,1294.7h24.0M917.8,1282.7v24.0M795.4,1163.7h24.0M807.4,1151.7v24.0M860.0,1184.2h24.0M872.0,1172.2v24.0M1200.7,1170.2h24.0M1212.7,1158.2v24.0M884.3,1288.8h24.0M896.3,1276.8v24.0M996.4,1162.1h24.0M1008.4,1150.1v24.0M907.7,1309.9h24.0M919.7,1297.9v24.0M771.0,987.8h24.0M783.0,975.8v24.0M772.2,1012.1h24.0M784.2,1000.1v24.0M753.0,1057.1h24.0M765.0,1045.1v24.0M792.5,1101.1h24.0M804.5,1089.1v24.0M662.9,1154.0h24.0M674.9,1142.0v24.0M678.7,1185.1h24.0M690.7,1173.1v24.0M692.9,1203.6h24.0M704.9,1191.6v24.0M735.7,1159.6h24.0M747.7,1147.6v24.0M865.7,1087.6h24.0M877.7,1075.6v24.0M1013.7,1069.5h24.0M1025.7,1057.5v24.0M727.1,1217.1h24.0M739.1,1205.1v24.0M732.8,1201.3h24.0M744.8,1189.3v24.0M732.9,1414.1h24.0M744.9,1402.1v24.0M684.8,1433.8h24.0M696.8,1421.8v24.0M752.9,1451.9h24.0M764.9,1439.9v24.0M795.0,1428.4h24.0M807.0,1416.4v24.0M792.9,1416.2h24.0M804.9,1404.2v24.0M773.9,1504.9h24.0M785.9,1492.9v24.0M777.5,1522.2h24.0M789.5,1510.2v24.0M876.6,1477.0h24.0M888.6,1465.0v24.0M917.7,1467.0h24.0M929.7,1455.0v24.0M961.0,1486.5h24.0M973.0,1474.5v24.0M1052.9,1487.8h24.0M1064.9,1475.8v24.0M1099.1,1504.1h24.0M1111.1,1492.1v24.0M1055.0,1539.2h24.0M1067.0,1527.2v24.0M1063.9,1546.5h24.0M1075.9,1534.5v24.0M1411.0,1205.5h24.0M1423.0,1193.5v24.0M1466.6,1186.5h24.0M1478.6,1174.5v24.0M1429.0,1239.2h24.0M1441.0,1227.2v24.0M1473.1,1232.0h24.0M1485.1,1220.0v24.0M1528.0,1255.0h24.0M1540.0,1243.0v24.0M1556.2,1261.5h24.0M1568.2,1249.5v24.0M1566.7,1276.0h24.0M1578.7,1264.0v24.0M1457.6,1286.3h24.0M1469.6,1274.3v24.0M1480.3,1333.6h24.0M1492.3,1321.6v24.0M1423.1,1344.8h24.0M1435.1,1332.8v24.0M1411.8,1396.2h24.0M1423.8,1384.2v24.0M1468.5,1398.9h24.0M1480.5,1386.9v24.0M1382.0,1393.5h24.0M1394.0,1381.5v24.0M1366.4,1432.7h24.0M1378.4,1420.7v24.0M1344.8,1463.8h24.0M1356.8,1451.8v24.0M1285.3,1488.9h24.0M1297.3,1476.9v24.0M1437.2,1511.1h24.0M1449.2,1499.1v24.0M1201.5,1496.2h24.0M1213.5,1484.2v24.0M1194.8,1504.3h24.0M1206.8,1492.3v24.0M1319.3,1128.7h24.0M1331.3,1116.7v24.0M1194.2,1036.0h24.0M1206.2,1024.0v24.0"/></g>
</g>
<g fill="none" stroke-width="10" stroke-linejoin="round" shape-rendering="crispEdges">
<path stroke="#DF536B" d="M1276.8,895.8L1276.7,904.1L1276.5,912.3L1276.0,920.4L1275.5,928.3L1274.7,936.1L1273.8,943.8L1272.7,951.3L1271.4,958.7L1270.0,965.9L1268.4,973.0L1266.7,979.8L1264.7,986.6L1262.7,993.1L1260.4,999.4L1258.1,1005.6L1255.5,1011.6L1252.8,1017.4L1250.0,1023.0L1247.0,1028.3L1243.8,1033.5L1240.5,1038.5L1237.1,1043.2L1233.5,1047.8L1229.8,1052.1L1225.9,1056.2L1221.9,1060.1L1217.8,1063.8L1213.5,1067.2L1209.2,1070.4L1204.7,1073.3L1200.1,1076.0L1195.3,1078.5L1190.5,1080.8L1185.5,1082.8L1180.5,1084.5L1175.3,1086.0L1170.0,1087.3L1164.7,1088.3L1159.2,1089.1L1153.7,1089.7L1148.1,1089.9L1142.3,1090.0L1136.6,1089.8L1130.7,1089.3L1124.8,1088.6L1118.8,1087.7L1112.7,1086.5L1106.6,1085.0L1100.5,1083.3L1094.3,1081.4L1088.0,1079.3L1081.7,1076.8L1075.4,1074.2L1069.1,1071.3L1062.7,1068.2L1056.3,1064.8L1049.9,1061.3L1043.4,1057.5L1037.0,1053.4L1030.5,1049.2L1024.1,1044.7L1017.7,1040.0L1011.2,1035.1L1004.8,1030.0L998.4,1024.7L992.0,1019.1L985.7,1013.4L979.4,1007.5L973.1,1001.4L966.8,995.1L960.6,988.6L954.5,982.0L948.4,975.1L942.3,968.1L936.3,961.0L930.4,953.6L924.5,946.2L918.8,938.6L913.0,930.8L907.4,922.9L901.9,914.8L896.4,906.7L891.1,898.4L885.8,890.0L880.6,881.5L875.6,872.9L870.6,864.1L865.8,855.3L861.0,846.4L856.4,837.5L851.9,828.4L847.6,819.3L843.3,810.1L839.2,800.9L835.2,791.6L831.3,782.3L827.6,772.9L824.0,763.5L820.6,754.1L817.3,744.6L814.1,735.2L811.1,725.7L808.3,716.3L805.6,706.9L803.0,697.4L800.7,688.0L798.4,678.7L796.4,669.3L794.4,660.0L792.7,650.8L791.1,641.6L789.7,632.4L788.4,623.4L787.3,614.4L786.4,605.4L785.6,596.6L785.1,587.9L784.6,579.2L784.4,570.7L784.3,562.2L784.4,553.9L784.6,545.7L785.1,537.6L785.6,529.7L786.4,521.9L787.3,514.2L788.4,506.7L789.7,499.3L791.1,492.1L792.7,485.0L794.4,478.2L796.4,471.4L798.4,464.9L800.7,458.6L803.0,452.4L805.6,446.4L808.3,440.6L811.1,435.0L814.1,429.7L817.3,424.5L820.6,419.5L824.0,414.8L827.6,410.2L831.3,405.9L835.2,401.8L839.2,397.9L843.3,394.2L847.6,390.8L851.9,387.6L856.4,384.7L861.0,382.0L865.8,379.5L870.6,377.2L875.6,375.2L880.6,373.5L885.8,372.0L891.1,370.7L896.4,369.7L901.9,368.9L907.4,368.3L913.0,368.1L918.8,368.0L924.5,368.2L930.4,368.7L936.3,369.4L942.3,370.3L948.4,371.5L954.5,373.0L960.6,374.7L966.8,376.6L973.1,378.7L979.4,381.2L985.7,383.8L992.0,386.7L998.4,389.8L1004.8,393.2L1011.2,396.7L1017.7,400.5L1024.1,404.6L1030.5,408.8L1037.0,413.3L1043.4,418.0L1049.9,422.9L1056.3,428.0L1062.7,433.3L1069.1,438.9L1075.4,444.6L1081.7,450.5L1088.0,456.6L1094.3,462.9L1100.5,469.4L1106.6,476.0L1112.7,482.9L1118.8,489.9L1124.8,497.0L1130.7,504.4L1136.6,511.8L1142.3,519.4L1148.1,527.2L1153.7,535.1L1159.2,543.2L1164.7,551.3L1170.0,559.6L1175.3,568.0L1180.5,576.5L1185.5,585.1L1190.5,593.9L1195.3,602.7L1200.1,611.6L1204.7,620.5L1209.2,629.6L1213.5,638.7L1217.8,647.9L1221.9,657.1L1225.9,666.4L1229.8,675.7L1233.5,685.1L1237.1,694.5L1240.5,703.9L1243.8,713.4L1247.0,722.8L1250.0,732.3L1252.8,741.7L1255.5,751.1L1258.1,760.6L1260.4,770.0L1262.7,779.3L1264.7,788.7L1266.7,798.0L1268.4,807.2L1270.0,816.4L1271.4,825.6L1272.7,834.6L1273.8,843.6L1274.7,852.6L1275.5,861.4L1276.0,870.1L1276.5,878.8L1276.7,887.3Z"/>
<path stroke="#61D04F" d="M1950.0,1217.4L1949.9,1222.1L1949.6,1226.8L1949.0,1231.4L1948.2,1235.9L1947.2,1240.3L1946.0,1244.7L1944.5,1248.9L1942.9,1253.1L1941.0,1257.1L1938.9,1261.1L1936.5,1264.9L1934.0,1268.6L1931.2,1272.2L1928.3,1275.7L1925.1,1279.1L1921.7,1282.4L1918.1,1285.6L1914.4,1288.6L1910.4,1291.5L1906.2,1294.3L1901.8,1296.9L1897.2,1299.4L1892.5,1301.8L1887.5,1304.1L1882.4,1306.2L1877.1,1308.2L1871.7,1310.0L1866.0,1311.8L1860.2,1313.3L1854.2,1314.7L1848.1,1316.0L1841.8,1317.2L1835.4,1318.2L1828.8,1319.0L1822.1,1319.7L1815.2,1320.3L1808.2,1320.7L1801.1,1321.0L1793.9,1321.1L1786.5,1321.1L1779.0,1320.9L1771.5,1320.6L1763.8,1320.1L1756.0,1319.5L1748.1,1318.8L1740.2,1317.9L1732.2,1316.8L1724.0,1315.6L1715.9,1314.3L1707.6,1312.8L1699.3,1311.2L1691.0,1309.4L1682.6,1307.6L1674.2,1305.5L1665.7,1303.4L1657.2,1301.1L1648.7,1298.6L1640.1,1296.1L1631.6,1293.4L1623.0,1290.6L1614.4,1287.6L1605.9,1284.5L1597.3,1281.3L1588.8,1278.0L1580.3,1274.6L1571.8,1271.1L1563.4,1267.4L1555.0,1263.6L1546.7,1259.8L1538.4,1255.8L1530.1,1251.7L1522.0,1247.5L1513.8,1243.3L1505.8,1238.9L1497.9,1234.4L1490.0,1229.9L1482.2,1225.3L1474.5,1220.6L1467.0,1215.8L1459.5,1210.9L1452.1,1206.0L1444.9,1201.0L1437.8,1195.9L1430.8,1190.8L1423.9,1185.6L1417.2,1180.4L1410.6,1175.1L1404.2,1169.7L1397.9,1164.4L1391.8,1159.0L1385.8,1153.5L1380.0,1148.0L1374.3,1142.5L1368.9,1137.0L1363.6,1131.4L1358.5,1125.9L1353.5,1120.3L1348.8,1114.7L1344.2,1109.1L1339.8,1103.5L1335.6,1097.9L1331.6,1092.3L1327.9,1086.7L1324.3,1081.1L1320.9,1075.6L1317.7,1070.1L1314.8,1064.6L1312.0,1059.1L1309.5,1053.7L1307.1,1048.3L1305.0,1042.9L1303.1,1037.6L1301.5,1032.3L1300.0,1027.1L1298.8,1021.9L1297.8,1016.8L1297.0,1011.8L1296.4,1006.8L1296.1,1001.9L1296.0,997.0L1296.1,992.3L1296.4,987.6L1297.0,983.0L1297.8,978.5L1298.8,974.1L1300.0,969.7L1301.5,965.5L1303.1,961.3L1305.0,957.3L1307.1,953.3L1309.5,949.5L1312.0,945.8L1314.8,942.2L1317.7,938.7L1320.9,935.3L1324.3,932.0L1327.9,928.8L1331.6,925.8L1335.6,922.9L1339.8,920.1L1344.2,917.5L1348.8,915.0L1353.5,912.6L1358.5,910.3L1363.6,908.2L1368.9,906.2L1374.3,904.4L1380.0,902.6L1385.8,901.1L1391.8,899.7L1397.9,898.4L1404.2,897.2L1410.6,896.2L1417.2,895.4L1423.9,894.7L1430.8,894.1L1437.8,893.7L1444.9,893.4L1452.1,893.3L1459.5,893.3L1467.0,893.5L1474.5,893.8L1482.2,894.3L1490.0,894.9L1497.9,895.6L1505.8,896.5L1513.8,897.6L1522.0,898.8L1530.1,900.1L1538.4,901.6L1546.7,903.2L1555.0,905.0L1563.4,906.8L1571.8,908.9L1580.3,911.0L1588.8,913.3L1597.3,915.8L1605.9,918.3L1614.4,921.0L1623.0,923.8L1631.6,926.8L1640.1,929.9L1648.7,933.1L1657.2,936.4L1665.7,939.8L1674.2,943.3L1682.6,947.0L1691.0,950.8L1699.3,954.6L1707.6,958.6L1715.9,962.7L1724.0,966.9L1732.2,971.1L1740.2,975.5L1748.1,980.0L1756.0,984.5L1763.8,989.1L1771.5,993.8L1779.0,998.6L1786.5,1003.5L1793.9,1008.4L1801.1,1013.4L1808.2,1018.5L1815.2,1023.6L1822.1,1028.8L1828.8,1034.0L1835.4,1039.3L1841.8,1044.7L1848.1,1050.0L1854.2,1055.4L1860.2,1060.9L1866.0,1066.4L1871.7,1071.9L1877.1,1077.4L1882.4,1083.0L1887.5,1088.5L1892.5,1094.1L1897.2,1099.7L1901.8,1105.3L1906.2,1110.9L1910.4,1116.5L1914.4,1122.1L1918.1,1127.7L1921.7,1133.3L1925.1,1138.8L1928.3,1144.3L1931.2,1149.8L1934.0,1155.3L1936.5,1160.7L1938.9,1166.1L1941.0,1171.5L1942.9,1176.8L1944.5,1182.1L1946.0,1187.3L1947.2,1192.5L1948.2,1197.6L1949.0,1202.6L1949.6,1207.6L1949.9,1212.5Z"/>
<path stroke="#2297E6" d="M1424.5,1326.4L1424.4,1332.0L1424.0,1337.5L1423.4,1343.0L1422.6,1348.4L1421.5,1353.8L1420.1,1359.2L1418.6,1364.5L1416.8,1369.8L1414.7,1375.0L1412.4,1380.2L1409.9,1385.3L1407.2,1390.3L1404.2,1395.3L1401.0,1400.2L1397.5,1405.0L1393.9,1409.8L1390.0,1414.4L1385.9,1419.0L1381.5,1423.5L1377.0,1427.9L1372.3,1432.2L1367.3,1436.5L1362.2,1440.6L1356.8,1444.6L1351.3,1448.5L1345.5,1452.3L1339.6,1456.0L1333.5,1459.6L1327.2,1463.1L1320.7,1466.4L1314.0,1469.6L1307.2,1472.7L1300.2,1475.7L1293.1,1478.6L1285.8,1481.3L1278.4,1483.9L1270.8,1486.4L1263.1,1488.7L1255.2,1490.9L1247.3,1493.0L1239.2,1494.9L1231.0,1496.7L1222.6,1498.4L1214.2,1499.9L1205.7,1501.2L1197.1,1502.5L1188.4,1503.5L1179.6,1504.5L1170.7,1505.3L1161.8,1505.9L1152.8,1506.4L1143.7,1506.7L1134.6,1506.9L1125.5,1507.0L1116.3,1506.9L1107.1,1506.7L1097.9,1506.3L1088.6,1505.7L1079.3,1505.1L1070.0,1504.2L1060.8,1503.3L1051.5,1502.1L1042.2,1500.9L1033.0,1499.5L1023.8,1497.9L1014.6,1496.2L1005.5,1494.4L996.4,1492.4L987.3,1490.3L978.3,1488.1L969.4,1485.7L960.5,1483.2L951.7,1480.6L943.0,1477.8L934.4,1474.9L925.9,1471.9L917.5,1468.8L909.1,1465.5L900.9,1462.1L892.8,1458.6L884.9,1455.0L877.0,1451.3L869.3,1447.4L861.7,1443.5L854.3,1439.4L847.0,1435.3L839.9,1431.1L832.9,1426.7L826.1,1422.3L819.4,1417.8L812.9,1413.2L806.6,1408.5L800.5,1403.7L794.6,1398.9L788.8,1393.9L783.3,1388.9L777.9,1383.9L772.8,1378.8L767.8,1373.6L763.1,1368.4L758.6,1363.1L754.2,1357.7L750.1,1352.4L746.2,1346.9L742.6,1341.5L739.1,1336.0L735.9,1330.5L732.9,1324.9L730.2,1319.3L727.7,1313.7L725.4,1308.1L723.3,1302.5L721.5,1296.9L720.0,1291.3L718.6,1285.6L717.5,1280.0L716.7,1274.4L716.1,1268.8L715.7,1263.2L715.6,1257.7L715.7,1252.1L716.1,1246.6L716.7,1241.1L717.5,1235.7L718.6,1230.3L720.0,1224.9L721.5,1219.6L723.3,1214.3L725.4,1209.1L727.7,1203.9L730.2,1198.8L732.9,1193.8L735.9,1188.8L739.1,1183.9L742.6,1179.1L746.2,1174.3L750.1,1169.7L754.2,1165.1L758.6,1160.6L763.1,1156.2L767.8,1151.9L772.8,1147.6L777.9,1143.5L783.3,1139.5L788.8,1135.6L794.6,1131.8L800.5,1128.1L806.6,1124.5L812.9,1121.0L819.4,1117.7L826.1,1114.5L832.9,1111.4L839.9,1108.4L847.0,1105.5L854.3,1102.8L861.7,1100.2L869.3,1097.7L877.0,1095.4L884.9,1093.2L892.8,1091.1L900.9,1089.2L909.1,1087.4L917.5,1085.7L925.9,1084.2L934.4,1082.9L943.0,1081.6L951.7,1080.6L960.5,1079.6L969.4,1078.8L978.3,1078.2L987.3,1077.7L996.4,1077.4L1005.5,1077.2L1014.6,1077.1L1023.8,1077.2L1033.0,1077.4L1042.2,1077.8L1051.5,1078.4L1060.8,1079.0L1070.0,1079.9L1079.3,1080.8L1088.6,1082.0L1097.9,1083.2L1107.1,1084.6L1116.3,1086.2L1125.5,1087.9L1134.6,1089.7L1143.7,1091.7L1152.8,1093.8L1161.8,1096.0L1170.7,1098.4L1179.6,1100.9L1188.4,1103.5L1197.1,1106.3L1205.7,1109.2L1214.2,1112.2L1222.6,1115.3L1231.0,1118.6L1239.2,1122.0L1247.3,1125.5L1255.2,1129.1L1263.1,1132.8L1270.8,1136.7L1278.4,1140.6L1285.8,1144.7L1293.1,1148.8L1300.2,1153.0L1307.2,1157.4L1314.0,1161.8L1320.7,1166.3L1327.2,1170.9L1333.5,1175.6L1339.6,1180.4L1345.5,1185.2L1351.3,1190.2L1356.8,1195.2L1362.2,1200.2L1367.3,1205.3L1372.3,1210.5L1377.0,1215.7L1381.5,1221.0L1385.9,1226.4L1390.0,1231.7L1393.9,1237.2L1397.5,1242.6L1401.0,1248.1L1404.2,1253.6L1407.2,1259.2L1409.9,1264.8L1412.4,1270.4L1414.7,1276.0L1416.8,1281.6L1418.6,1287.2L1420.1,1292.8L1421.5,1298.5L1422.6,1304.1L1423.4,1309.7L1424.0,1315.3L1424.4,1320.9Z"/>
</g>
<g fill="none" stroke="#000" stroke-width="7.8" shape-rendering="crispEdges">
<path d="M620.9,102.8L622.9,107.8L625.0,112.8L627.0,117.8L629.1,122.7L631.1,127.7L633.2,132.6M646.2,163.2L648.4,168.1L650.5,173.0L652.7,177.9L654.8,182.7L657.0,187.5L659.1,192.3L659.3,192.7M673.2,222.9L675.5,227.8L677.8,232.6L680.0,237.4L682.3,242.2L684.6,246.9L686.9,251.7L687.0,251.9M701.8,281.8L704.3,286.7L706.7,291.5L709.2,296.2L711.6,301.0L714.1,305.7L716.5,310.4M732.2,339.8L734.8,344.5L737.4,349.2L740.0,353.9L742.6,358.6L745.2,363.2L747.8,367.8L747.8,367.9M764.5,396.7L767.2,401.4L770.0,406.0L772.8,410.6L775.5,415.2L778.3,419.7L781.0,424.2M798.7,452.4L801.6,456.9L804.5,461.4L807.4,465.9L810.3,470.3L813.2,474.7L816.1,479.1L816.2,479.3M834.9,506.8L838.0,511.2L841.0,515.6L844.1,519.9L847.2,524.3L850.2,528.6L853.3,532.8L853.5,533.0M873.2,559.8L876.4,564.0L879.6,568.3L882.9,572.5L886.1,576.7L889.3,580.9L892.6,585.0L892.7,585.2M913.5,611.1L916.9,615.3L920.3,619.4L923.7,623.5L927.1,627.5L930.5,631.6L933.9,635.6L934.0,635.7M955.8,660.7L959.4,664.7L963.0,668.7L966.6,672.6L970.1,676.6L973.7,680.4L977.3,684.3L977.4,684.4M1000.2,708.5L1004.0,712.3L1007.7,716.2L1011.5,720.0L1015.2,723.7L1018.9,727.5L1022.7,731.2L1022.7,731.2M1046.5,754.3L1050.4,757.9L1054.3,761.6L1058.2,765.2L1062.0,768.8L1065.9,772.4L1069.8,775.9L1070.0,776.1M1094.7,798.1L1098.7,801.6L1102.8,805.1L1106.8,808.5L1110.9,812.0L1114.9,815.4L1119.0,818.8L1119.0,818.8M1144.6,839.8L1148.8,843.1L1153.0,846.5L1157.2,849.8L1161.4,853.0L1165.6,856.3L1169.8,859.5M1196.2,879.4L1200.4,882.6L1204.7,885.7L1209.0,888.8L1213.3,891.9L1217.6,895.0L1221.9,898.0L1222.0,898.1M1249.2,917.0L1253.6,920.0L1258.0,922.9L1262.5,925.9L1266.9,928.8L1271.3,931.8L1275.8,934.7M1303.6,952.4L1308.1,955.3L1312.6,958.1L1317.1,960.9L1321.7,963.7L1326.2,966.4L1330.7,969.2M1359.2,985.9L1363.7,988.6L1368.3,991.2L1372.9,993.8L1377.5,996.5L1382.1,999.0L1386.7,1001.6L1386.9,1001.7M1415.8,1017.5L1420.5,1020.0L1425.2,1022.5L1429.9,1025.0L1434.6,1027.5L1439.3,1029.9L1444.0,1032.3L1444.1,1032.4M1473.5,1047.2L1478.2,1049.6L1483.0,1051.9L1487.8,1054.3L1492.5,1056.6L1497.3,1058.9L1502.1,1061.2L1502.1,1061.2M1531.9,1075.2L1536.8,1077.4L1541.6,1079.6L1546.4,1081.8L1551.3,1084.0L1556.1,1086.2L1560.9,1088.3L1561.0,1088.4M1591.2,1101.5L1596.0,1103.6L1600.9,1105.7L1605.8,1107.8L1610.6,1109.8L1615.5,1111.8L1620.4,1113.9L1620.5,1113.9M1651.0,1126.3L1656.0,1128.3L1660.9,1130.2L1665.8,1132.2L1670.8,1134.1L1675.7,1136.0L1680.7,1138.0M1711.4,1149.6L1716.4,1151.5L1721.4,1153.3L1726.4,1155.2L1731.3,1157.0L1736.3,1158.8L1741.3,1160.6L1741.3,1160.6M1772.4,1171.6L1777.4,1173.3L1782.4,1175.1L1787.4,1176.8L1792.4,1178.5L1797.4,1180.2L1802.4,1181.9L1802.5,1181.9M1833.7,1192.3L1838.7,1193.9L1843.8,1195.6L1848.8,1197.2L1853.8,1198.8L1858.9,1200.4L1863.9,1202.0L1864.0,1202.0M1895.4,1211.8L1900.5,1213.4L1905.5,1214.9L1910.6,1216.4L1915.7,1218.0L1920.8,1219.5L1925.8,1221.0M1957.4,1230.2L1961.8,1231.5L1966.1,1232.7L1970.4,1233.9L1974.7,1235.2L1979.1,1236.4L1983.4,1237.6L1983.5,1237.6"/>
<path d="M274.7,103.4L275.0,104.7L275.2,105.9L275.5,107.2L275.8,108.5L276.0,109.7L276.3,111.0L276.3,111.4M281.3,135.5L281.6,136.7L281.9,137.9L282.1,139.2L282.4,140.4L282.6,141.6L282.9,142.8L283.0,143.4M288.2,167.6L288.5,168.8L288.7,169.9L289.0,171.1L289.3,172.3L289.5,173.4L289.8,174.6L290.0,175.6M295.4,199.6L295.7,200.9L296.0,202.2L296.3,203.5L296.6,204.8L296.9,206.1L297.2,207.5M302.8,231.7L303.1,232.9L303.4,234.2L303.7,235.4L304.0,236.7L304.3,237.9L304.6,239.2L304.6,239.4M310.5,263.5L310.8,264.7L311.1,265.9L311.4,267.1L311.7,268.3L312.0,269.5L312.3,270.7L312.4,271.3M318.5,295.3L318.8,296.4L319.1,297.6L319.4,298.7L319.7,299.9L320.0,301.1L320.3,302.2L320.5,303.0M326.8,327.0L327.1,328.3L327.5,329.6L327.8,330.8L328.2,332.1L328.5,333.4L328.9,334.6L328.9,334.8M335.4,358.5L335.8,359.8L336.1,361.0L336.5,362.2L336.8,363.4L337.1,364.6L337.5,365.8L337.7,366.4M344.4,390.1L344.8,391.4L345.2,392.7L345.6,394.0L346.0,395.3L346.4,396.6L346.8,397.9M353.8,421.5L354.2,422.8L354.6,424.1L355.0,425.3L355.4,426.6L355.8,427.8L356.2,429.1L356.2,429.3M363.6,452.8L364.0,454.0L364.4,455.2L364.8,456.4L365.2,457.6L365.6,458.8L365.9,460.0L366.2,460.7M373.8,484.1L374.3,485.3L374.7,486.6L375.1,487.9L375.6,489.1L376.0,490.4L376.4,491.7L376.4,491.8M384.5,515.1L384.9,516.3L385.3,517.5L385.8,518.7L386.2,519.9L386.6,521.1L387.0,522.3L387.2,522.8M395.6,546.0L396.1,547.2L396.5,548.5L397.0,549.8L397.5,551.0L397.9,552.3L398.4,553.6L398.4,553.7M407.2,576.6L407.6,577.8L408.1,579.1L408.6,580.3L409.0,581.5L409.5,582.7L410.0,583.9L410.2,584.3M419.3,607.3L419.9,608.6L420.4,609.8L420.9,611.1L421.4,612.3L421.9,613.6L422.4,614.8L422.5,614.9M432.1,637.8L432.6,639.0L433.1,640.2L433.6,641.4L434.1,642.6L434.6,643.8L435.1,645.0L435.3,645.4M445.3,668.0L445.9,669.2L446.4,670.4L447.0,671.7L447.5,672.9L448.1,674.1L448.6,675.3L448.7,675.5M459.2,698.0L459.8,699.1L460.3,700.3L460.9,701.5L461.4,702.6L462.0,703.8L462.5,704.9L462.7,705.4M473.7,727.6L474.3,728.8L474.9,730.0L475.5,731.2L476.1,732.4L476.7,733.5L477.3,734.7L477.4,735.0M488.8,756.9L489.4,758.1L490.1,759.4L490.7,760.6L491.4,761.8L492.0,762.9L492.7,764.1L492.7,764.2M504.6,785.9L505.3,787.1L505.9,788.2L506.5,789.4L507.2,790.5L507.8,791.6L508.5,792.8L508.7,793.1M521.1,814.6L521.8,815.7L522.5,816.9L523.2,818.0L523.8,819.1L524.5,820.3L525.2,821.4L525.3,821.6M538.4,843.0L539.2,844.1L539.9,845.3L540.6,846.4L541.4,847.6L542.1,848.7L542.8,849.9L542.9,850.0M556.6,871.0L557.3,872.1L558.1,873.3L558.9,874.4L559.6,875.6L560.4,876.7L561.2,877.9L561.2,877.9M575.4,898.5L576.2,899.6L577.0,900.7L577.8,901.8L578.5,902.9L579.3,903.9L580.1,905.0L580.3,905.3M595.1,925.5L595.9,926.5L596.7,927.6L597.5,928.7L598.3,929.8L599.1,930.8L599.9,931.9L600.1,932.1M615.5,951.9L616.3,953.0L617.2,954.0L618.0,955.1L618.9,956.2L619.8,957.2L620.6,958.3L620.7,958.4M636.6,977.6L637.5,978.7L638.4,979.8L639.3,980.8L640.2,981.9L641.1,982.9L642.0,983.9L642.1,984.0M658.5,1002.8L659.5,1003.8L660.4,1004.8L661.4,1005.9L662.3,1006.9L663.2,1007.9L664.2,1009.0M681.4,1027.4L682.3,1028.4L683.3,1029.3L684.2,1030.3L685.2,1031.3L686.1,1032.3L687.0,1033.2L687.2,1033.4M705.0,1051.3L706.0,1052.3L706.9,1053.2L707.9,1054.2L708.9,1055.1L709.9,1056.1L710.9,1057.0L711.0,1057.2M729.3,1074.5L730.3,1075.4L731.3,1076.3L732.4,1077.3L733.4,1078.2L734.4,1079.2L735.4,1080.1L735.5,1080.1M754.3,1096.8L755.3,1097.7L756.3,1098.6L757.4,1099.5L758.4,1100.4L759.4,1101.3L760.4,1102.1L760.6,1102.3M780.0,1118.5L781.0,1119.4L782.1,1120.2L783.2,1121.1L784.2,1122.0L785.3,1122.8L786.4,1123.7L786.5,1123.8M806.3,1139.3L807.4,1140.2L808.5,1141.0L809.6,1141.9L810.7,1142.7L811.8,1143.6L812.9,1144.4L813.0,1144.5M833.2,1159.4L834.3,1160.2L835.4,1161.0L836.5,1161.8L837.6,1162.6L838.7,1163.4L839.9,1164.2L840.0,1164.3M860.4,1178.6L861.5,1179.3L862.6,1180.1L863.7,1180.8L864.8,1181.6L866.0,1182.3L867.1,1183.1L867.2,1183.2M887.7,1196.6L888.8,1197.3L889.9,1198.0L891.0,1198.8L892.1,1199.5L893.2,1200.2L894.3,1200.9L894.5,1201.0M915.3,1213.9L916.4,1214.6L917.6,1215.3L918.7,1216.0L919.9,1216.7L921.0,1217.4L922.2,1218.1L922.2,1218.1M943.3,1230.5L944.4,1231.1L945.6,1231.8L946.7,1232.5L947.9,1233.1L949.1,1233.8L950.2,1234.4L950.4,1234.5M971.7,1246.4L972.9,1247.0L974.1,1247.7L975.3,1248.3L976.5,1249.0L977.7,1249.6L978.9,1250.3L978.9,1250.3M1000.5,1261.6L1001.7,1262.3L1002.9,1262.9L1004.1,1263.5L1005.3,1264.1L1006.5,1264.7L1007.7,1265.3L1007.8,1265.4M1029.6,1276.3L1030.8,1276.9L1032.0,1277.4L1033.2,1278.0L1034.4,1278.6L1035.6,1279.2L1036.8,1279.8L1037.0,1279.8M1059.0,1290.3L1060.3,1290.8L1061.5,1291.4L1062.7,1292.0L1064.0,1292.5L1065.2,1293.1L1066.5,1293.7L1066.5,1293.7M1089.1,1303.9L1090.4,1304.4L1091.6,1304.9L1092.9,1305.5L1094.1,1306.0L1095.3,1306.6L1096.6,1307.1L1096.7,1307.2M1119.5,1316.9L1120.8,1317.4L1122.1,1318.0L1123.4,1318.5L1124.6,1319.0L1125.9,1319.5L1127.2,1320.1M1150.2,1329.4L1151.5,1329.9L1152.8,1330.4L1154.0,1330.9L1155.3,1331.4L1156.6,1331.9L1157.9,1332.4M1181.0,1341.3L1182.3,1341.8L1183.6,1342.3L1184.9,1342.8L1186.2,1343.2L1187.4,1343.7L1188.7,1344.2L1188.8,1344.2M1212.1,1352.8L1213.4,1353.2L1214.7,1353.7L1215.9,1354.1L1217.2,1354.6L1218.5,1355.1L1219.8,1355.5L1219.9,1355.6M1243.3,1363.7L1244.6,1364.2L1245.8,1364.6L1247.1,1365.0L1248.4,1365.5L1249.7,1365.9L1251.0,1366.3L1251.1,1366.4M1274.7,1374.2L1276.0,1374.7L1277.2,1375.1L1278.5,1375.5L1279.8,1375.9L1281.1,1376.3L1282.4,1376.7L1282.5,1376.8M1305.9,1384.2L1307.2,1384.6L1308.4,1385.0L1309.7,1385.4L1311.0,1385.8L1312.3,1386.2L1313.6,1386.6L1313.7,1386.6M1337.2,1393.8L1338.5,1394.1L1339.7,1394.5L1341.0,1394.9L1342.3,1395.3L1343.6,1395.7L1344.9,1396.0L1345.0,1396.1M1368.6,1402.9L1369.9,1403.3L1371.1,1403.7L1372.4,1404.0L1373.7,1404.4L1375.0,1404.8L1376.3,1405.1L1376.5,1405.2M1400.1,1411.8L1401.4,1412.1L1402.8,1412.5L1404.1,1412.8L1405.4,1413.2L1406.7,1413.6L1408.1,1413.9M1431.7,1420.2L1433.1,1420.6L1434.4,1420.9L1435.7,1421.3L1437.0,1421.6L1438.3,1422.0L1439.7,1422.3M1463.4,1428.4L1464.8,1428.7L1466.1,1429.0L1467.4,1429.4L1468.7,1429.7L1470.0,1430.0L1471.4,1430.4L1471.4,1430.4M1495.2,1436.2L1496.5,1436.5L1497.9,1436.8L1499.2,1437.2L1500.5,1437.5L1501.8,1437.8L1503.2,1438.1L1503.2,1438.1M1527.1,1443.7L1528.4,1444.0L1529.7,1444.4L1531.1,1444.7L1532.4,1445.0L1533.7,1445.3L1535.0,1445.6L1535.1,1445.6M1559.0,1451.0L1560.3,1451.3L1561.6,1451.6L1563.0,1451.9L1564.3,1452.2L1565.6,1452.5L1566.9,1452.8L1567.0,1452.8M1591.0,1458.0L1592.3,1458.3L1593.6,1458.5L1594.9,1458.8L1596.3,1459.1L1597.6,1459.4L1598.9,1459.7L1599.0,1459.7M1623.0,1464.7L1624.3,1465.0L1625.6,1465.3L1627.0,1465.5L1628.3,1465.8L1629.6,1466.1L1630.9,1466.4L1631.0,1466.4M1655.1,1471.2L1656.4,1471.5L1657.7,1471.7L1659.1,1472.0L1660.4,1472.3L1661.7,1472.5L1663.0,1472.8L1663.1,1472.8M1687.2,1477.5L1688.5,1477.7L1689.9,1478.0L1691.2,1478.3L1692.5,1478.5L1693.8,1478.8L1695.2,1479.0L1695.2,1479.0M1719.3,1483.5L1720.7,1483.8L1722.0,1484.0L1723.3,1484.3L1724.6,1484.5L1726.0,1484.8L1727.3,1485.0L1727.4,1485.0M1751.2,1489.3L1752.5,1489.6L1753.9,1489.8L1755.2,1490.0L1756.5,1490.3L1757.8,1490.5L1759.2,1490.7L1759.2,1490.7M1783.0,1494.9L1784.4,1495.1L1785.7,1495.4L1787.0,1495.6L1788.3,1495.8L1789.7,1496.0L1791.0,1496.3L1791.0,1496.3M1814.9,1500.3L1816.2,1500.5L1817.5,1500.7L1818.8,1501.0L1820.2,1501.2L1821.5,1501.4L1822.8,1501.6L1822.9,1501.6M1846.8,1505.5L1848.1,1505.7L1849.4,1505.9L1850.7,1506.2L1852.1,1506.4L1853.4,1506.6L1854.7,1506.8L1854.8,1506.8M1878.7,1510.6L1880.0,1510.8L1881.3,1511.0L1882.7,1511.2L1884.0,1511.4L1885.3,1511.6L1886.6,1511.8L1886.7,1511.8M1910.6,1515.5L1911.9,1515.7L1913.2,1515.9L1914.6,1516.1L1915.9,1516.3L1917.2,1516.5L1918.5,1516.7L1918.6,1516.7M1942.6,1520.2L1943.9,1520.4L1945.2,1520.6L1946.5,1520.8L1947.9,1521.0L1949.2,1521.2L1950.5,1521.4L1950.6,1521.4M1974.6,1524.8L1975.9,1525.0L1977.2,1525.2L1978.5,1525.4L1979.9,1525.6L1981.2,1525.8L1982.5,1525.9L1982.6,1526.0"/>
</g>
</g>
<g fill="#333333" shape-rendering="crispEdges">
<rect x="189" y="31" width="1880" height="3"/>
<rect x="189" y="1616" width="1880" height="4"/>
<rect x="189" y="31" width="3" height="1589"/>
<rect x="2065" y="31" width="4" height="1589"/>
<rect x="382" y="1620" width="6" height="14"/>
<rect x="839" y="1620" width="6" height="14"/>
<rect x="1295" y="1620" width="6" height="14"/>
<rect x="1752" y="1620" width="6" height="14"/>
<rect x="174" y="1352" width="15" height="6"/>
<rect x="174" y="893" width="15" height="6"/>
<rect x="174" y="435" width="15" height="6"/>
</g>
<g fill="#4D4D4D" font-size="50">
<text x="841.7" y="1685" text-anchor="middle">20</text>
<text x="1298.4" y="1685" text-anchor="middle">30</text>
<text x="1755.1" y="1685" text-anchor="middle">40</text>
<text x="385.0" y="1685">0</text>
<path d="M375.83,1685.00L371.43,1685.00L371.43,1657.00Q369.85,1658.51 367.27,1660.02Q364.70,1661.54 362.64,1662.29L362.64,1658.05Q366.33,1656.31 369.09,1653.85Q371.85,1651.38 373.00,1649.06L375.83,1649.06Z"/>
<text x="161" y="1373.7" text-anchor="end">30</text>
<text x="161" y="914.7" text-anchor="end">60</text>
<text x="161" y="456.7" text-anchor="end">90</text>
</g>
<g fill="#000" font-size="63" letter-spacing="0.3">
<text x="1128.4" y="1755.6" text-anchor="middle">Number of segments</text>
<text transform="translate(77.5,824.3) rotate(-90)" text-anchor="middle">Average length (cm)</text>
</g>
<rect x="1564" y="108" width="410" height="369" fill="#fff"/>
<rect x="1564" y="541" width="399" height="309" fill="#fff"/>
<g fill="#000">
<text x="1595.6" y="194.6" font-size="63" letter-spacing="0.1">Relationship</text>
<g font-size="50">
<text x="1734" y="287.2">GR</text><text x="1734" y="359.2">HS</text><text x="1734" y="431.2">HU</text>
<text x="1734" y="729.5">0.5</text><text x="1734" y="801.7">0.25</text>
</g>
<text x="1595.6" y="624.6" font-size="63" letter-spacing="0.1">Expected</text>
<text transform="translate(1873.6,624.6) scale(1.12,1)" stroke="#000" stroke-width="0.35" style="font-family:'Liberation Serif',serif;font-size:62.5px">κ</text>
<path d="M1924.40,636.10L1920.55,636.10L1920.55,611.60Q1919.17,612.92 1916.91,614.25Q1914.66,615.57 1912.86,616.23L1912.86,612.52Q1916.09,611.00 1918.50,608.84Q1920.92,606.68 1921.92,604.65L1924.40,604.65Z"/>
</g>
<g fill="none" stroke-width="2.0" shape-rendering="crispEdges">
<circle cx="1649.5" cy="267.5" r="9.85" stroke="#DF536B"/>
<path stroke="#61D04F" d="M1649.5,324.1l13.34,23.10h-26.67z"/>
<path stroke="#2297E6" d="M1634.6,411.5h29.8M1649.5,396.6v29.8"/>
</g>
<g fill="#000" shape-rendering="crispEdges">
<rect x="1607" y="707" width="32" height="8"/><rect x="1671" y="707" width="21" height="8"/>
<rect x="1607" y="779" width="8" height="8"/>
<rect x="1639" y="779" width="8" height="8"/>
<rect x="1671" y="779" width="8" height="8"/>
</g>
</svg></body></html>
